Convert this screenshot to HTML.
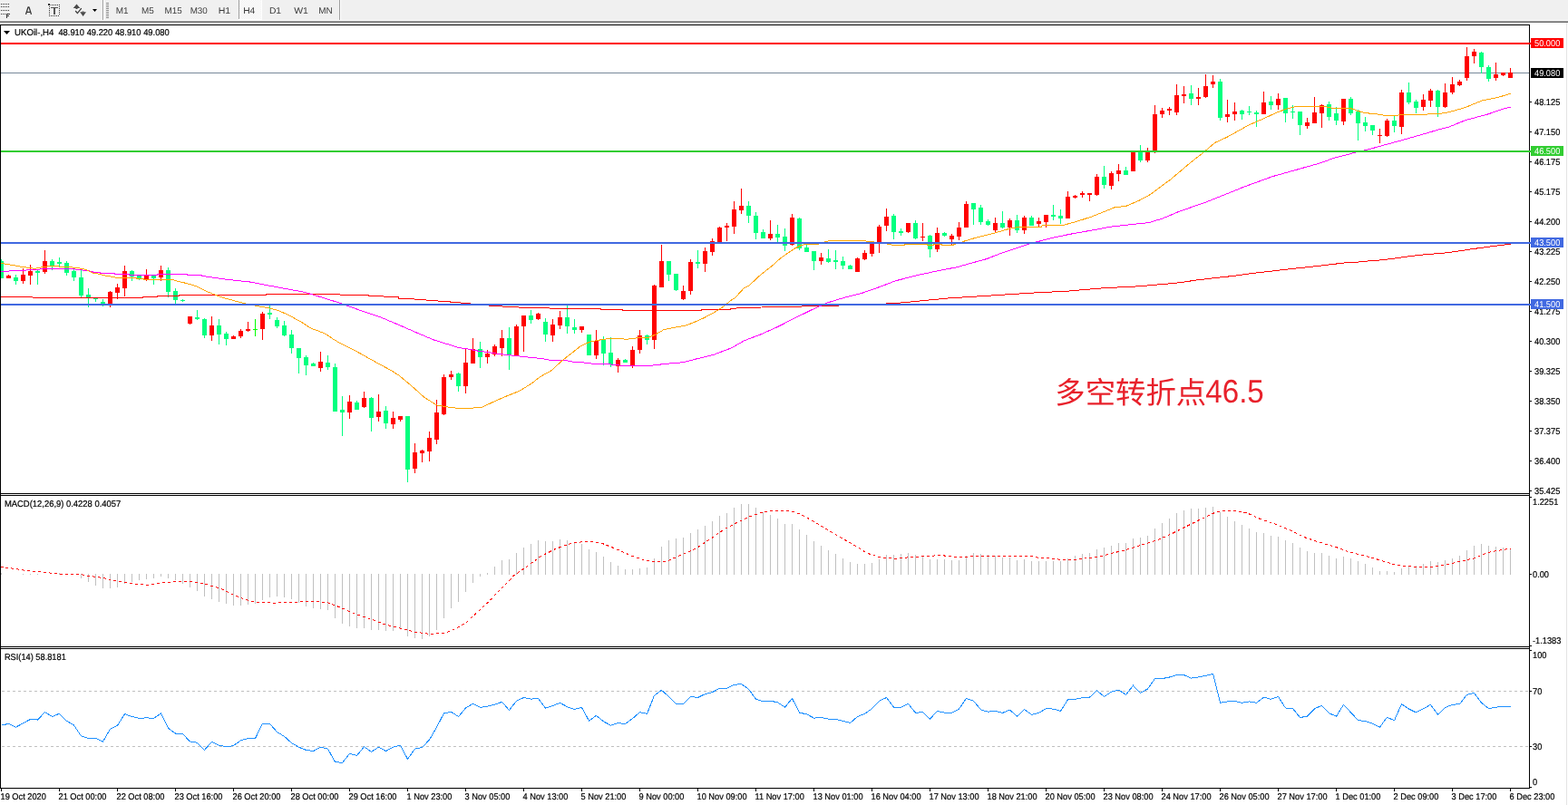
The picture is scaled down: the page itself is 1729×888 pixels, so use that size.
<!DOCTYPE html>
<html><head><meta charset="utf-8"><title>UKOil H4</title>
<style>
html,body{margin:0;padding:0;background:#fff;}
body{width:1729px;height:888px;overflow:hidden;}
svg{display:block;}
text{white-space:pre;text-rendering:geometricPrecision;}
</style></head><body>
<svg width="1729" height="888" viewBox="0 0 1729 888" shape-rendering="crispEdges"><rect x="0" y="0" width="1729" height="22" fill="#F0F0F0"/><rect x="0" y="22" width="1729" height="1" fill="#F9F9F9"/><rect x="0" y="23" width="1729" height="1" fill="#A0A0A0"/><rect x="0" y="24" width="1729" height="1" fill="#6B6B6B"/><rect x="1" y="4" width="1" height="1" fill="#333"/><rect x="3" y="4" width="1" height="1" fill="#333"/><rect x="5" y="4" width="1" height="1" fill="#333"/><rect x="7" y="4" width="1" height="1" fill="#333"/><rect x="9" y="4" width="1" height="1" fill="#333"/><rect x="1" y="7" width="1" height="1" fill="#333"/><rect x="3" y="7" width="1" height="1" fill="#333"/><rect x="5" y="7" width="1" height="1" fill="#333"/><rect x="7" y="7" width="1" height="1" fill="#333"/><rect x="9" y="7" width="1" height="1" fill="#333"/><rect x="1" y="11" width="1" height="1" fill="#333"/><rect x="3" y="11" width="1" height="1" fill="#333"/><rect x="5" y="11" width="1" height="1" fill="#333"/><rect x="7" y="11" width="1" height="1" fill="#333"/><rect x="9" y="11" width="1" height="1" fill="#333"/><rect x="1" y="15" width="1" height="1" fill="#333"/><rect x="3" y="15" width="1" height="1" fill="#333"/><rect x="5" y="15" width="1" height="1" fill="#333"/><path d="M7 15h4v1h-3v1h2v1h-2v2h-1z" fill="#333"/><path d="M28.5 15.9 L31 7.9 H32 L34.5 15.9 M29.6 13.3 H33.4" fill="none" stroke="#383838" stroke-width="1.35" stroke-linejoin="bevel" shape-rendering="geometricPrecision"/><rect x="57" y="5" width="1" height="1" fill="#333"/><rect x="59" y="5" width="1" height="1" fill="#333"/><rect x="61" y="5" width="1" height="1" fill="#333"/><rect x="63" y="5" width="1" height="1" fill="#333"/><rect x="65" y="5" width="1" height="1" fill="#333"/><rect x="54" y="7" width="1" height="1" fill="#333"/><rect x="65" y="7" width="1" height="1" fill="#333"/><rect x="54" y="9" width="1" height="1" fill="#333"/><rect x="65" y="9" width="1" height="1" fill="#333"/><rect x="54" y="11" width="1" height="1" fill="#333"/><rect x="65" y="11" width="1" height="1" fill="#333"/><rect x="54" y="13" width="1" height="1" fill="#333"/><rect x="65" y="13" width="1" height="1" fill="#333"/><rect x="54" y="15" width="1" height="1" fill="#333"/><rect x="65" y="15" width="1" height="1" fill="#333"/><rect x="54" y="17" width="1" height="1" fill="#333"/><rect x="56" y="17" width="1" height="1" fill="#333"/><rect x="58" y="17" width="1" height="1" fill="#333"/><rect x="60" y="17" width="1" height="1" fill="#333"/><rect x="62" y="17" width="1" height="1" fill="#333"/><rect x="64" y="17" width="1" height="1" fill="#333"/><rect x="53" y="4" width="2" height="2" fill="#333"/><rect x="55" y="5" width="1" height="1" fill="#777"/><rect x="56" y="8" width="8" height="1" fill="#555"/><rect x="59" y="8" width="2" height="8" fill="#555"/><g shape-rendering="geometricPrecision" fill="#4a4a4a"><path d="M84.5 4.5 L88.3 9 L80.7 9 Z"/><path d="M83.5 9h2v1h-2z"/><path d="M88.2 13.2 L95 13.2 L91.6 18 Z"/><path d="M90.5 12.5h2v1h-2z"/><path d="M83.2 12 L85.4 14.6 L89.8 9.2" fill="none" stroke="#3a3a3a" stroke-width="1.3"/></g><path d="M102 10h5l-2.5 3z" fill="#000" shape-rendering="geometricPrecision"/><rect x="113" y="0" width="1" height="22" fill="#A0A0A0"/><rect x="114" y="0" width="1" height="22" fill="#FFFFFF"/><rect x="117" y="3" width="3" height="1" fill="#8C8C8C"/><rect x="117" y="5" width="3" height="1" fill="#8C8C8C"/><rect x="117" y="7" width="3" height="1" fill="#8C8C8C"/><rect x="117" y="9" width="3" height="1" fill="#8C8C8C"/><rect x="117" y="11" width="3" height="1" fill="#8C8C8C"/><rect x="117" y="13" width="3" height="1" fill="#8C8C8C"/><rect x="117" y="15" width="3" height="1" fill="#8C8C8C"/><rect x="117" y="17" width="3" height="1" fill="#8C8C8C"/><rect x="117" y="19" width="3" height="1" fill="#8C8C8C"/><defs><pattern id="chk" x="0" y="0" width="2" height="2" patternUnits="userSpaceOnUse"><rect width="2" height="2" fill="#F0F0F0"/><rect width="1" height="1" fill="#FFFFFF"/><rect x="1" y="1" width="1" height="1" fill="#FFFFFF"/></pattern></defs><rect x="264" y="0" width="24" height="21" fill="url(#chk)"/><rect x="263" y="0" width="1" height="21" fill="#A0A0A0"/><rect x="288" y="0" width="1" height="22" fill="#FFFFFF"/><rect x="263" y="21" width="26" height="1" fill="#FFFFFF"/><rect x="374" y="0" width="1" height="22" fill="#A0A0A0"/><rect x="375" y="0" width="1" height="22" fill="#FFFFFF"/><g font-family="'Liberation Sans', sans-serif" font-size="9.8px" fill="#3C3C3C"><text x="127.80000000000001" y="14.9" textLength="13.9" lengthAdjust="spacingAndGlyphs">M1</text><text x="156.0" y="14.9" textLength="13.8" lengthAdjust="spacingAndGlyphs">M5</text><text x="181.6" y="14.9" textLength="19.1" lengthAdjust="spacingAndGlyphs">M15</text><text x="209.70000000000002" y="14.9" textLength="19.1" lengthAdjust="spacingAndGlyphs">M30</text><text x="240.70000000000002" y="14.9" textLength="13.5" lengthAdjust="spacingAndGlyphs">H1</text><text x="268.2" y="14.9" textLength="13.1" lengthAdjust="spacingAndGlyphs">H4</text><text x="296.9" y="14.9" textLength="13.2" lengthAdjust="spacingAndGlyphs">D1</text><text x="324.2" y="14.9" textLength="15.7" lengthAdjust="spacingAndGlyphs">W1</text><text x="351.29999999999995" y="14.9" textLength="15.5" lengthAdjust="spacingAndGlyphs">MN</text></g><rect x="0" y="25" width="1729" height="863" fill="#FFFFFF"/><rect x="1727" y="25" width="1" height="863" fill="#E3E3E3"/><rect x="1" y="80" width="1686" height="1" fill="#778899"/><g clip-path="url(#cm)"><rect x="1" y="286" width="1" height="21" fill="#00FF7F"/><rect x="-1" y="288" width="5" height="19" fill="#00FF7F"/><rect x="9" y="303" width="1" height="4" fill="#FF0000"/><rect x="7" y="304" width="5" height="3" fill="#FF0000"/><rect x="17" y="303" width="1" height="11" fill="#00FF7F"/><rect x="15" y="306" width="5" height="4" fill="#00FF7F"/><rect x="25" y="296" width="1" height="17" fill="#FF0000"/><rect x="23" y="303" width="5" height="7" fill="#FF0000"/><rect x="33" y="292" width="1" height="22" fill="#FF0000"/><rect x="31" y="299" width="5" height="5" fill="#FF0000"/><rect x="41" y="298" width="1" height="16" fill="#00FF7F"/><rect x="39" y="299" width="5" height="2" fill="#00FF7F"/><rect x="49" y="276" width="1" height="26" fill="#FF0000"/><rect x="47" y="288" width="5" height="12" fill="#FF0000"/><rect x="57" y="286" width="1" height="12" fill="#00FF7F"/><rect x="55" y="288" width="5" height="5" fill="#00FF7F"/><rect x="65" y="284" width="1" height="10" fill="#00FF7F"/><rect x="63" y="289" width="5" height="2" fill="#00FF7F"/><rect x="73" y="288" width="1" height="16" fill="#00FF7F"/><rect x="71" y="290" width="5" height="11" fill="#00FF7F"/><rect x="81" y="296" width="1" height="14" fill="#00FF7F"/><rect x="79" y="299" width="5" height="7" fill="#00FF7F"/><rect x="89" y="296" width="1" height="32" fill="#00FF7F"/><rect x="87" y="306" width="5" height="20" fill="#00FF7F"/><rect x="97" y="318" width="1" height="21" fill="#00FF7F"/><rect x="95" y="325" width="5" height="3" fill="#00FF7F"/><rect x="105" y="328" width="1" height="5" fill="#00FF7F"/><rect x="103" y="329" width="5" height="1" fill="#00FF7F"/><rect x="113" y="330" width="1" height="8" fill="#00FF7F"/><rect x="111" y="333" width="5" height="2" fill="#00FF7F"/><rect x="121" y="321" width="1" height="18" fill="#FF0000"/><rect x="119" y="322" width="5" height="13" fill="#FF0000"/><rect x="129" y="313" width="1" height="17" fill="#FF0000"/><rect x="127" y="317" width="5" height="6" fill="#FF0000"/><rect x="137" y="293" width="1" height="34" fill="#FF0000"/><rect x="135" y="299" width="5" height="19" fill="#FF0000"/><rect x="145" y="298" width="1" height="12" fill="#00FF7F"/><rect x="143" y="299" width="5" height="6" fill="#00FF7F"/><rect x="153" y="304" width="1" height="5" fill="#00FF7F"/><rect x="151" y="304" width="5" height="3" fill="#00FF7F"/><rect x="161" y="297" width="1" height="13" fill="#FF0000"/><rect x="159" y="304" width="5" height="4" fill="#FF0000"/><rect x="169" y="304" width="1" height="10" fill="#00FF7F"/><rect x="167" y="304" width="5" height="3" fill="#00FF7F"/><rect x="177" y="293" width="1" height="17" fill="#FF0000"/><rect x="175" y="298" width="5" height="8" fill="#FF0000"/><rect x="185" y="295" width="1" height="33" fill="#00FF7F"/><rect x="183" y="298" width="5" height="24" fill="#00FF7F"/><rect x="193" y="318" width="1" height="17" fill="#00FF7F"/><rect x="191" y="321" width="5" height="10" fill="#00FF7F"/><rect x="201" y="330" width="1" height="3" fill="#00FF7F"/><rect x="199" y="331" width="5" height="1" fill="#00FF7F"/><rect x="209" y="349" width="1" height="9" fill="#FF0000"/><rect x="207" y="349" width="5" height="8" fill="#FF0000"/><rect x="217" y="342" width="1" height="11" fill="#00FF7F"/><rect x="215" y="350" width="5" height="2" fill="#00FF7F"/><rect x="225" y="351" width="1" height="22" fill="#00FF7F"/><rect x="223" y="352" width="5" height="18" fill="#00FF7F"/><rect x="233" y="349" width="1" height="27" fill="#FF0000"/><rect x="231" y="359" width="5" height="11" fill="#FF0000"/><rect x="241" y="352" width="1" height="28" fill="#00FF7F"/><rect x="239" y="359" width="5" height="10" fill="#00FF7F"/><rect x="249" y="366" width="1" height="15" fill="#00FF7F"/><rect x="247" y="368" width="5" height="6" fill="#00FF7F"/><rect x="257" y="370" width="1" height="4" fill="#FF0000"/><rect x="255" y="371" width="5" height="3" fill="#FF0000"/><rect x="265" y="363" width="1" height="10" fill="#FF0000"/><rect x="263" y="365" width="5" height="6" fill="#FF0000"/><rect x="273" y="355" width="1" height="11" fill="#FF0000"/><rect x="271" y="363" width="5" height="2" fill="#FF0000"/><rect x="281" y="352" width="1" height="19" fill="#00FF00"/><rect x="279" y="363" width="5" height="1" fill="#00FF00"/><rect x="289" y="344" width="1" height="31" fill="#FF0000"/><rect x="287" y="346" width="5" height="17" fill="#FF0000"/><rect x="297" y="337" width="1" height="15" fill="#00FF7F"/><rect x="295" y="345" width="5" height="2" fill="#00FF7F"/><rect x="305" y="350" width="1" height="12" fill="#00FF7F"/><rect x="303" y="353" width="5" height="7" fill="#00FF7F"/><rect x="313" y="354" width="1" height="17" fill="#00FF7F"/><rect x="311" y="359" width="5" height="11" fill="#00FF7F"/><rect x="321" y="364" width="1" height="26" fill="#00FF7F"/><rect x="319" y="369" width="5" height="15" fill="#00FF7F"/><rect x="329" y="384" width="1" height="28" fill="#00FF7F"/><rect x="327" y="384" width="5" height="11" fill="#00FF7F"/><rect x="337" y="392" width="1" height="22" fill="#00FF7F"/><rect x="335" y="394" width="5" height="9" fill="#00FF7F"/><rect x="345" y="400" width="1" height="4" fill="#00FF7F"/><rect x="343" y="401" width="5" height="3" fill="#00FF7F"/><rect x="353" y="388" width="1" height="22" fill="#FF0000"/><rect x="351" y="399" width="5" height="7" fill="#FF0000"/><rect x="361" y="392" width="1" height="16" fill="#00FF7F"/><rect x="359" y="400" width="5" height="5" fill="#00FF7F"/><rect x="369" y="401" width="1" height="53" fill="#00FF7F"/><rect x="367" y="405" width="5" height="49" fill="#00FF7F"/><rect x="377" y="437" width="1" height="44" fill="#00FF7F"/><rect x="375" y="452" width="5" height="3" fill="#00FF7F"/><rect x="385" y="436" width="1" height="26" fill="#FF0000"/><rect x="383" y="443" width="5" height="12" fill="#FF0000"/><rect x="393" y="442" width="1" height="10" fill="#00FF7F"/><rect x="391" y="444" width="5" height="8" fill="#00FF7F"/><rect x="401" y="432" width="1" height="18" fill="#FF0000"/><rect x="399" y="439" width="5" height="10" fill="#FF0000"/><rect x="409" y="438" width="1" height="38" fill="#00FF7F"/><rect x="407" y="439" width="5" height="22" fill="#00FF7F"/><rect x="417" y="435" width="1" height="30" fill="#FF0000"/><rect x="415" y="454" width="5" height="6" fill="#FF0000"/><rect x="425" y="448" width="1" height="25" fill="#00FF7F"/><rect x="423" y="453" width="5" height="14" fill="#00FF7F"/><rect x="433" y="454" width="1" height="19" fill="#FF0000"/><rect x="431" y="461" width="5" height="7" fill="#FF0000"/><rect x="441" y="459" width="1" height="6" fill="#FF0000"/><rect x="439" y="459" width="5" height="4" fill="#FF0000"/><rect x="449" y="459" width="1" height="73" fill="#00FF7F"/><rect x="447" y="459" width="5" height="59" fill="#00FF7F"/><rect x="457" y="489" width="1" height="33" fill="#FF0000"/><rect x="455" y="499" width="5" height="18" fill="#FF0000"/><rect x="465" y="496" width="1" height="14" fill="#FF0000"/><rect x="463" y="497" width="5" height="3" fill="#FF0000"/><rect x="473" y="476" width="1" height="33" fill="#FF0000"/><rect x="471" y="483" width="5" height="15" fill="#FF0000"/><rect x="481" y="441" width="1" height="49" fill="#FF0000"/><rect x="479" y="455" width="5" height="30" fill="#FF0000"/><rect x="489" y="413" width="1" height="45" fill="#FF0000"/><rect x="487" y="416" width="5" height="41" fill="#FF0000"/><rect x="497" y="409" width="1" height="10" fill="#FF0000"/><rect x="495" y="413" width="5" height="3" fill="#FF0000"/><rect x="505" y="411" width="1" height="21" fill="#00FF7F"/><rect x="503" y="412" width="5" height="14" fill="#00FF7F"/><rect x="513" y="384" width="1" height="50" fill="#FF0000"/><rect x="511" y="400" width="5" height="26" fill="#FF0000"/><rect x="521" y="373" width="1" height="28" fill="#FF0000"/><rect x="519" y="385" width="5" height="16" fill="#FF0000"/><rect x="529" y="377" width="1" height="29" fill="#00FF7F"/><rect x="527" y="385" width="5" height="9" fill="#00FF7F"/><rect x="537" y="386" width="1" height="15" fill="#FF0000"/><rect x="535" y="390" width="5" height="4" fill="#FF0000"/><rect x="545" y="380" width="1" height="13" fill="#FF0000"/><rect x="543" y="382" width="5" height="9" fill="#FF0000"/><rect x="553" y="364" width="1" height="29" fill="#FF0000"/><rect x="551" y="373" width="5" height="11" fill="#FF0000"/><rect x="561" y="361" width="1" height="47" fill="#00FF7F"/><rect x="559" y="373" width="5" height="18" fill="#00FF7F"/><rect x="569" y="358" width="1" height="34" fill="#FF0000"/><rect x="567" y="360" width="5" height="32" fill="#FF0000"/><rect x="577" y="348" width="1" height="40" fill="#FF0000"/><rect x="575" y="348" width="5" height="12" fill="#FF0000"/><rect x="585" y="342" width="1" height="15" fill="#00FF7F"/><rect x="583" y="348" width="5" height="5" fill="#00FF7F"/><rect x="593" y="345" width="1" height="8" fill="#FF0000"/><rect x="591" y="346" width="5" height="6" fill="#FF0000"/><rect x="601" y="351" width="1" height="26" fill="#00FF7F"/><rect x="599" y="355" width="5" height="14" fill="#00FF7F"/><rect x="609" y="352" width="1" height="25" fill="#FF0000"/><rect x="607" y="358" width="5" height="12" fill="#FF0000"/><rect x="617" y="343" width="1" height="20" fill="#FF0000"/><rect x="615" y="350" width="5" height="9" fill="#FF0000"/><rect x="625" y="337" width="1" height="31" fill="#00FF7F"/><rect x="623" y="350" width="5" height="10" fill="#00FF7F"/><rect x="633" y="352" width="1" height="16" fill="#00FF7F"/><rect x="631" y="361" width="5" height="3" fill="#00FF7F"/><rect x="641" y="360" width="1" height="7" fill="#FF0000"/><rect x="639" y="360" width="5" height="4" fill="#FF0000"/><rect x="649" y="369" width="1" height="23" fill="#00FF7F"/><rect x="647" y="369" width="5" height="23" fill="#00FF7F"/><rect x="657" y="364" width="1" height="32" fill="#FF0000"/><rect x="655" y="376" width="5" height="16" fill="#FF0000"/><rect x="665" y="371" width="1" height="32" fill="#00FF7F"/><rect x="663" y="375" width="5" height="15" fill="#00FF7F"/><rect x="673" y="372" width="1" height="33" fill="#00FF7F"/><rect x="671" y="389" width="5" height="13" fill="#00FF7F"/><rect x="681" y="395" width="1" height="16" fill="#FF0000"/><rect x="679" y="397" width="5" height="7" fill="#FF0000"/><rect x="689" y="396" width="1" height="4" fill="#00FF7F"/><rect x="687" y="397" width="5" height="3" fill="#00FF7F"/><rect x="697" y="382" width="1" height="24" fill="#FF0000"/><rect x="695" y="386" width="5" height="17" fill="#FF0000"/><rect x="705" y="364" width="1" height="26" fill="#FF0000"/><rect x="703" y="370" width="5" height="16" fill="#FF0000"/><rect x="713" y="369" width="1" height="11" fill="#00FF7F"/><rect x="711" y="370" width="5" height="5" fill="#00FF7F"/><rect x="721" y="314" width="1" height="71" fill="#FF0000"/><rect x="719" y="315" width="5" height="60" fill="#FF0000"/><rect x="729" y="270" width="1" height="47" fill="#FF0000"/><rect x="727" y="288" width="5" height="29" fill="#FF0000"/><rect x="737" y="288" width="1" height="22" fill="#00FF7F"/><rect x="735" y="288" width="5" height="15" fill="#00FF7F"/><rect x="745" y="302" width="1" height="19" fill="#00FF7F"/><rect x="743" y="302" width="5" height="18" fill="#00FF7F"/><rect x="753" y="315" width="1" height="16" fill="#FF0000"/><rect x="751" y="321" width="5" height="9" fill="#FF0000"/><rect x="761" y="286" width="1" height="39" fill="#FF0000"/><rect x="759" y="289" width="5" height="32" fill="#FF0000"/><rect x="769" y="276" width="1" height="20" fill="#00FF7F"/><rect x="767" y="289" width="5" height="2" fill="#00FF7F"/><rect x="777" y="273" width="1" height="27" fill="#FF0000"/><rect x="775" y="277" width="5" height="14" fill="#FF0000"/><rect x="785" y="263" width="1" height="19" fill="#FF0000"/><rect x="783" y="266" width="5" height="12" fill="#FF0000"/><rect x="793" y="250" width="1" height="18" fill="#FF0000"/><rect x="791" y="251" width="5" height="17" fill="#FF0000"/><rect x="801" y="246" width="1" height="20" fill="#FF0000"/><rect x="799" y="249" width="5" height="2" fill="#FF0000"/><rect x="809" y="222" width="1" height="36" fill="#FF0000"/><rect x="807" y="231" width="5" height="19" fill="#FF0000"/><rect x="817" y="208" width="1" height="28" fill="#FF0000"/><rect x="815" y="227" width="5" height="5" fill="#FF0000"/><rect x="825" y="222" width="1" height="24" fill="#00FF7F"/><rect x="823" y="227" width="5" height="11" fill="#00FF7F"/><rect x="833" y="234" width="1" height="30" fill="#00FF7F"/><rect x="831" y="238" width="5" height="19" fill="#00FF7F"/><rect x="841" y="253" width="1" height="10" fill="#00FF7F"/><rect x="839" y="256" width="5" height="7" fill="#00FF7F"/><rect x="849" y="243" width="1" height="22" fill="#FF0000"/><rect x="847" y="258" width="5" height="5" fill="#FF0000"/><rect x="857" y="248" width="1" height="19" fill="#00FF7F"/><rect x="855" y="258" width="5" height="4" fill="#00FF7F"/><rect x="865" y="252" width="1" height="25" fill="#00FF7F"/><rect x="863" y="261" width="5" height="10" fill="#00FF7F"/><rect x="873" y="236" width="1" height="35" fill="#FF0000"/><rect x="871" y="240" width="5" height="30" fill="#FF0000"/><rect x="881" y="240" width="1" height="36" fill="#00FF7F"/><rect x="879" y="241" width="5" height="33" fill="#00FF7F"/><rect x="889" y="270" width="1" height="8" fill="#00FF7F"/><rect x="887" y="273" width="5" height="5" fill="#00FF7F"/><rect x="897" y="277" width="1" height="21" fill="#00FF7F"/><rect x="895" y="277" width="5" height="11" fill="#00FF7F"/><rect x="905" y="279" width="1" height="13" fill="#FF0000"/><rect x="903" y="284" width="5" height="4" fill="#FF0000"/><rect x="913" y="275" width="1" height="15" fill="#00FF7F"/><rect x="911" y="285" width="5" height="4" fill="#00FF7F"/><rect x="921" y="276" width="1" height="21" fill="#00FF7F"/><rect x="919" y="287" width="5" height="2" fill="#00FF7F"/><rect x="929" y="283" width="1" height="14" fill="#00FF7F"/><rect x="927" y="288" width="5" height="5" fill="#00FF7F"/><rect x="937" y="292" width="1" height="5" fill="#00FF7F"/><rect x="935" y="293" width="5" height="4" fill="#00FF7F"/><rect x="945" y="284" width="1" height="16" fill="#FF0000"/><rect x="943" y="285" width="5" height="15" fill="#FF0000"/><rect x="953" y="276" width="1" height="11" fill="#FF0000"/><rect x="951" y="279" width="5" height="7" fill="#FF0000"/><rect x="961" y="266" width="1" height="17" fill="#FF0000"/><rect x="959" y="268" width="5" height="12" fill="#FF0000"/><rect x="969" y="248" width="1" height="31" fill="#FF0000"/><rect x="967" y="250" width="5" height="17" fill="#FF0000"/><rect x="977" y="230" width="1" height="25" fill="#FF0000"/><rect x="975" y="239" width="5" height="10" fill="#FF0000"/><rect x="985" y="236" width="1" height="28" fill="#00FF7F"/><rect x="983" y="238" width="5" height="18" fill="#00FF7F"/><rect x="993" y="252" width="1" height="8" fill="#00FF7F"/><rect x="991" y="255" width="5" height="2" fill="#00FF7F"/><rect x="1001" y="246" width="1" height="11" fill="#FF0000"/><rect x="999" y="246" width="5" height="10" fill="#FF0000"/><rect x="1009" y="243" width="1" height="21" fill="#00FF7F"/><rect x="1007" y="246" width="5" height="17" fill="#00FF7F"/><rect x="1017" y="246" width="1" height="20" fill="#FF0000"/><rect x="1015" y="261" width="5" height="1" fill="#FF0000"/><rect x="1025" y="259" width="1" height="25" fill="#00FF7F"/><rect x="1023" y="260" width="5" height="15" fill="#00FF7F"/><rect x="1033" y="251" width="1" height="27" fill="#FF0000"/><rect x="1031" y="257" width="5" height="18" fill="#FF0000"/><rect x="1041" y="256" width="1" height="5" fill="#00FF7F"/><rect x="1039" y="257" width="5" height="3" fill="#00FF7F"/><rect x="1049" y="258" width="1" height="12" fill="#FF0000"/><rect x="1047" y="260" width="5" height="4" fill="#FF0000"/><rect x="1057" y="245" width="1" height="20" fill="#FF0000"/><rect x="1055" y="251" width="5" height="10" fill="#FF0000"/><rect x="1065" y="222" width="1" height="29" fill="#FF0000"/><rect x="1063" y="225" width="5" height="26" fill="#FF0000"/><rect x="1073" y="224" width="1" height="24" fill="#00FF7F"/><rect x="1071" y="224" width="5" height="7" fill="#00FF7F"/><rect x="1081" y="226" width="1" height="22" fill="#00FF7F"/><rect x="1079" y="229" width="5" height="16" fill="#00FF7F"/><rect x="1089" y="242" width="1" height="7" fill="#00FF7F"/><rect x="1087" y="244" width="5" height="4" fill="#00FF7F"/><rect x="1097" y="240" width="1" height="17" fill="#FF0000"/><rect x="1095" y="246" width="5" height="8" fill="#FF0000"/><rect x="1105" y="233" width="1" height="19" fill="#00FF7F"/><rect x="1103" y="246" width="5" height="5" fill="#00FF7F"/><rect x="1113" y="241" width="1" height="19" fill="#FF0000"/><rect x="1111" y="243" width="5" height="8" fill="#FF0000"/><rect x="1121" y="237" width="1" height="20" fill="#00FF7F"/><rect x="1119" y="243" width="5" height="11" fill="#00FF7F"/><rect x="1129" y="238" width="1" height="20" fill="#FF0000"/><rect x="1127" y="240" width="5" height="14" fill="#FF0000"/><rect x="1137" y="238" width="1" height="11" fill="#00FF7F"/><rect x="1135" y="240" width="5" height="9" fill="#00FF7F"/><rect x="1145" y="240" width="1" height="10" fill="#FF0000"/><rect x="1143" y="244" width="5" height="3" fill="#FF0000"/><rect x="1153" y="237" width="1" height="14" fill="#FF0000"/><rect x="1151" y="237" width="5" height="8" fill="#FF0000"/><rect x="1161" y="226" width="1" height="17" fill="#00FF7F"/><rect x="1159" y="237" width="5" height="2" fill="#00FF7F"/><rect x="1169" y="231" width="1" height="16" fill="#00FF7F"/><rect x="1167" y="238" width="5" height="3" fill="#00FF7F"/><rect x="1177" y="211" width="1" height="30" fill="#FF0000"/><rect x="1175" y="217" width="5" height="24" fill="#FF0000"/><rect x="1185" y="215" width="1" height="4" fill="#FF0000"/><rect x="1183" y="216" width="5" height="2" fill="#FF0000"/><rect x="1193" y="211" width="1" height="7" fill="#FF0000"/><rect x="1191" y="213" width="5" height="2" fill="#FF0000"/><rect x="1201" y="213" width="1" height="9" fill="#FF0000"/><rect x="1199" y="213" width="5" height="2" fill="#FF0000"/><rect x="1209" y="192" width="1" height="24" fill="#FF0000"/><rect x="1207" y="195" width="5" height="20" fill="#FF0000"/><rect x="1217" y="183" width="1" height="25" fill="#00FF7F"/><rect x="1215" y="195" width="5" height="9" fill="#00FF7F"/><rect x="1225" y="189" width="1" height="20" fill="#FF0000"/><rect x="1223" y="191" width="5" height="14" fill="#FF0000"/><rect x="1233" y="181" width="1" height="19" fill="#FF0000"/><rect x="1231" y="188" width="5" height="4" fill="#FF0000"/><rect x="1241" y="184" width="1" height="9" fill="#00FF7F"/><rect x="1239" y="188" width="5" height="5" fill="#00FF7F"/><rect x="1249" y="168" width="1" height="21" fill="#FF0000"/><rect x="1247" y="168" width="5" height="21" fill="#FF0000"/><rect x="1257" y="160" width="1" height="19" fill="#00FF7F"/><rect x="1255" y="168" width="5" height="9" fill="#00FF7F"/><rect x="1265" y="163" width="1" height="16" fill="#FF0000"/><rect x="1263" y="168" width="5" height="9" fill="#FF0000"/><rect x="1273" y="116" width="1" height="53" fill="#FF0000"/><rect x="1271" y="126" width="5" height="40" fill="#FF0000"/><rect x="1281" y="119" width="1" height="11" fill="#FF0000"/><rect x="1279" y="122" width="5" height="4" fill="#FF0000"/><rect x="1289" y="118" width="1" height="9" fill="#FF0000"/><rect x="1287" y="120" width="5" height="2" fill="#FF0000"/><rect x="1297" y="93" width="1" height="34" fill="#FF0000"/><rect x="1295" y="105" width="5" height="19" fill="#FF0000"/><rect x="1305" y="95" width="1" height="19" fill="#FF0000"/><rect x="1303" y="104" width="5" height="2" fill="#FF0000"/><rect x="1313" y="94" width="1" height="22" fill="#00FF7F"/><rect x="1311" y="103" width="5" height="6" fill="#00FF7F"/><rect x="1321" y="97" width="1" height="19" fill="#FF0000"/><rect x="1319" y="107" width="5" height="2" fill="#FF0000"/><rect x="1329" y="82" width="1" height="26" fill="#FF0000"/><rect x="1327" y="95" width="5" height="12" fill="#FF0000"/><rect x="1337" y="83" width="1" height="14" fill="#FF0000"/><rect x="1335" y="90" width="5" height="3" fill="#FF0000"/><rect x="1345" y="87" width="1" height="46" fill="#00FF7F"/><rect x="1343" y="90" width="5" height="40" fill="#00FF7F"/><rect x="1353" y="110" width="1" height="25" fill="#FF0000"/><rect x="1351" y="126" width="5" height="3" fill="#FF0000"/><rect x="1361" y="113" width="1" height="20" fill="#FF0000"/><rect x="1359" y="123" width="5" height="3" fill="#FF0000"/><rect x="1369" y="121" width="1" height="11" fill="#00FF7F"/><rect x="1367" y="122" width="5" height="4" fill="#00FF7F"/><rect x="1377" y="117" width="1" height="10" fill="#00FF7F"/><rect x="1375" y="123" width="5" height="1" fill="#00FF7F"/><rect x="1385" y="122" width="1" height="18" fill="#00FF7F"/><rect x="1383" y="124" width="5" height="2" fill="#00FF7F"/><rect x="1393" y="101" width="1" height="25" fill="#FF0000"/><rect x="1391" y="113" width="5" height="13" fill="#FF0000"/><rect x="1401" y="106" width="1" height="15" fill="#00FF7F"/><rect x="1399" y="112" width="5" height="4" fill="#00FF7F"/><rect x="1409" y="103" width="1" height="18" fill="#FF0000"/><rect x="1407" y="109" width="5" height="7" fill="#FF0000"/><rect x="1417" y="108" width="1" height="27" fill="#00FF7F"/><rect x="1415" y="108" width="5" height="17" fill="#00FF7F"/><rect x="1425" y="116" width="1" height="15" fill="#00FF7F"/><rect x="1423" y="123" width="5" height="1" fill="#00FF7F"/><rect x="1433" y="123" width="1" height="26" fill="#00FF7F"/><rect x="1431" y="123" width="5" height="15" fill="#00FF7F"/><rect x="1441" y="130" width="1" height="12" fill="#FF0000"/><rect x="1439" y="135" width="5" height="4" fill="#FF0000"/><rect x="1449" y="107" width="1" height="29" fill="#FF0000"/><rect x="1447" y="124" width="5" height="12" fill="#FF0000"/><rect x="1457" y="115" width="1" height="26" fill="#FF0000"/><rect x="1455" y="116" width="5" height="9" fill="#FF0000"/><rect x="1465" y="112" width="1" height="21" fill="#00FF7F"/><rect x="1463" y="115" width="5" height="14" fill="#00FF7F"/><rect x="1473" y="118" width="1" height="20" fill="#00FF7F"/><rect x="1471" y="125" width="5" height="8" fill="#00FF7F"/><rect x="1481" y="109" width="1" height="29" fill="#FF0000"/><rect x="1479" y="109" width="5" height="25" fill="#FF0000"/><rect x="1489" y="107" width="1" height="20" fill="#00FF7F"/><rect x="1487" y="109" width="5" height="16" fill="#00FF7F"/><rect x="1497" y="121" width="1" height="34" fill="#00FF7F"/><rect x="1495" y="123" width="5" height="13" fill="#00FF7F"/><rect x="1505" y="129" width="1" height="16" fill="#00FF7F"/><rect x="1503" y="135" width="5" height="4" fill="#00FF7F"/><rect x="1513" y="138" width="1" height="11" fill="#00FF7F"/><rect x="1511" y="138" width="5" height="6" fill="#00FF7F"/><rect x="1521" y="142" width="1" height="16" fill="#FF0000"/><rect x="1519" y="149" width="5" height="1" fill="#FF0000"/><rect x="1529" y="131" width="1" height="20" fill="#FF0000"/><rect x="1527" y="133" width="5" height="17" fill="#FF0000"/><rect x="1537" y="128" width="1" height="18" fill="#00FF7F"/><rect x="1535" y="133" width="5" height="6" fill="#00FF7F"/><rect x="1545" y="99" width="1" height="49" fill="#FF0000"/><rect x="1543" y="102" width="5" height="38" fill="#FF0000"/><rect x="1553" y="91" width="1" height="24" fill="#00FF7F"/><rect x="1551" y="102" width="5" height="11" fill="#00FF7F"/><rect x="1561" y="110" width="1" height="15" fill="#00FF7F"/><rect x="1559" y="112" width="5" height="7" fill="#00FF7F"/><rect x="1569" y="104" width="1" height="18" fill="#FF0000"/><rect x="1567" y="110" width="5" height="8" fill="#FF0000"/><rect x="1577" y="98" width="1" height="20" fill="#FF0000"/><rect x="1575" y="100" width="5" height="11" fill="#FF0000"/><rect x="1585" y="99" width="1" height="30" fill="#00FF7F"/><rect x="1583" y="100" width="5" height="18" fill="#00FF7F"/><rect x="1593" y="92" width="1" height="27" fill="#FF0000"/><rect x="1591" y="102" width="5" height="16" fill="#FF0000"/><rect x="1601" y="85" width="1" height="19" fill="#FF0000"/><rect x="1599" y="93" width="5" height="9" fill="#FF0000"/><rect x="1609" y="88" width="1" height="7" fill="#FF0000"/><rect x="1607" y="90" width="5" height="4" fill="#FF0000"/><rect x="1617" y="52" width="1" height="37" fill="#FF0000"/><rect x="1615" y="62" width="5" height="24" fill="#FF0000"/><rect x="1625" y="54" width="1" height="16" fill="#FF0000"/><rect x="1623" y="57" width="5" height="5" fill="#FF0000"/><rect x="1633" y="57" width="1" height="24" fill="#00FF7F"/><rect x="1631" y="58" width="5" height="16" fill="#00FF7F"/><rect x="1641" y="72" width="1" height="18" fill="#00FF7F"/><rect x="1639" y="74" width="5" height="13" fill="#00FF7F"/><rect x="1649" y="69" width="1" height="20" fill="#FF0000"/><rect x="1647" y="82" width="5" height="4" fill="#FF0000"/><rect x="1657" y="80" width="1" height="4" fill="#FF0000"/><rect x="1655" y="80" width="5" height="3" fill="#FF0000"/><rect x="1665" y="75" width="1" height="11" fill="#FF0000"/><rect x="1663" y="80" width="5" height="6" fill="#FF0000"/><path d="M0.5 327.4 L30.5 327.6 L40.5 328.3 L100.5 328.5 L157.3 328.5 L157.7 327.5 L173.5 327.5 L173.9 326.4 L197.5 326.4 L197.9 325.3 L293.5 325.3 L293.9 324.3 L374.7 324.3 L375.1 325.6 L406.3 325.6 L406.7 326.4 L422.9 326.4 L423.3 327.6 L439.3 327.6 L439.7 329.1 L450.5 329.5 L460.5 330.3 L500.5 333.3 L520.5 335.2 L542.5 337.3 L559 338.3 L582.8 339.6 L622.9 340.3 L640.5 340.4 L662.4 340.4 L662.8 341.5 L686.3 341.5 L686.7 342.5 L773.5 342.5 L773.9 341.3 L805.3 341.3 L805.7 340.4 L821.9 339.4 L862.5 338.5 L901.5 337.6 L925.5 337 L960.5 335.8 L989.5 334.4 L1000.5 333.3 L1045.5 329 L1092.9 326 L1138.2 323.1 L1177.5 321.1 L1216.5 317.8 L1256.2 315.8 L1295.5 312.3 L1300.5 311.8 L1317.9 309.2 L1335.2 307.1 L1358.3 304.6 L1381.5 301.4 L1404.6 298.8 L1427.7 296.1 L1445.1 294.4 L1462.5 292.3 L1485.5 289.6 L1500.5 288.9 L1509.3 287.8 L1525.2 286.7 L1541.7 284.5 L1557.5 282.3 L1573.5 280.5 L1589.5 279.4 L1605.5 277.4 L1621.4 275 L1637.9 272.7 L1653.2 270.8 L1665.5 269.1" fill="none" stroke="#FF0000" stroke-width="1" shape-rendering="crispEdges" /><path d="M0.5 299.4 L21.5 298.5 L37.5 297.4 L53.5 296.4 L78.5 296.4 L86.5 297.4 L94.5 298.5 L102 299.4 L102.5 300.4 L110.3 300.4 L110.7 301.2 L126.5 301.2 L126.9 302.4 L142.2 302.4 L142.6 303.2 L173.5 303.2 L173.9 302.4 L206.5 302.4 L206.9 303.4 L222.3 303.4 L222.7 304.4 L245.5 307.7 L275.5 311 L305.8 316.8 L335.8 322.3 L350.9 326.8 L373.5 333.9 L396 341.9 L419.9 350 L440.5 358.7 L460.5 367.4 L478.5 375 L496.2 380.5 L505 383.4 L518.5 385.4 L527.5 387.2 L536.5 388.3 L551 390.6 L567.2 392.4 L583.4 394.2 L596.9 395.5 L606.8 397.3 L622.1 397.3 L631.1 399.1 L646.5 400.2 L654.8 401.4 L671 401.7 L686.3 403.4 L717.1 403.4 L725.5 402.4 L733.2 401.4 L748.8 400.2 L755.1 399.3 L765.5 396.5 L786.3 391.5 L807.2 383.6 L820.5 375.8 L838.5 369 L857.1 360.7 L875.5 351.4 L894.1 342.2 L912.5 333.9 L931.1 328.3 L949.5 323.7 L968.1 317.2 L986.5 310.2 L990.5 309 L1014.8 302.9 L1039.1 297.7 L1055.3 294.8 L1063.4 292.4 L1071.5 290.1 L1087.7 285.7 L1103.9 279.4 L1120.1 273.9 L1136.1 268.6 L1146.5 266 L1162.2 261.9 L1183 257.7 L1203.8 254.1 L1224.7 250.2 L1245.5 247.8 L1266.3 245.7 L1282 241 L1300.5 233.2 L1330.5 222.7 L1372.1 206 L1403.4 194.6 L1456.5 179.7 L1471.5 174.1 L1481.8 171.6 L1495 168 L1509.5 164.7 L1525.9 160.1 L1546.2 154.6 L1566.5 148.8 L1586.7 142.9 L1596.8 140.4 L1615.5 132.8 L1640.5 126 L1659.5 119.6 L1665.5 118.2" fill="none" stroke="#FF00FF" stroke-width="1" shape-rendering="crispEdges" /><path d="M0.5 290.3 L14 292.4 L25 294.5 L38.5 296.4 L47.5 294.5 L57.5 293.4 L70.5 294.5 L85 295.3 L95.1 297.4 L100.5 300.4 L102.8 301.2 L108.8 302.1 L112.5 303.3 L118.5 304.4 L124.5 305.5 L128.7 306.4 L150.1 306.4 L150.9 307.4 L158.4 307.4 L159 308.5 L190 308.5 L196 310.4 L200.5 311.3 L204.3 312.2 L208 313.2 L211.8 314.3 L215.5 315.5 L219.3 317.2 L223.8 319.2 L227.5 321.3 L230.5 322.5 L245.5 328.3 L268.2 334.4 L283.2 337.4 L294.4 339.5 L303.5 341.6 L309.5 343.6 L315.2 346.2 L321 349.1 L326.8 352.3 L332.5 355.2 L338.3 359.2 L344.1 362.7 L349.9 364.7 L355.7 367 L361.5 369.9 L367.3 374 L373 377.4 L396 389.2 L414.5 399.6 L430.9 408.4 L440.3 414.3 L453 425 L467.5 438 L481.5 447 L496.2 449.4 L505.3 450.3 L517.2 450.3 L531.1 449.4 L545.5 442.6 L559.1 436.8 L572.5 431.4 L586.1 423.1 L595.1 416 L608.5 408.4 L619.5 398 L631.1 389 L640.5 381.5 L650.5 377.1 L660.9 375.1 L671 373.6 L686.2 373.6 L689.3 374.4 L701.5 373 L715.5 372.2 L723.8 368.5 L732.2 363.5 L744.7 361 L755.1 359.4 L765.5 355.5 L775.9 350.8 L786.3 345.4 L796.7 338.9 L807.2 330.5 L810.1 329 L820.1 318.1 L825.9 315.1 L838.5 303.3 L850.5 294 L860.9 284.7 L871 277.6 L876.1 274.2 L883.2 270.7 L888.3 269.5 L901.5 269.5 L911.5 266.4 L917.5 265.1 L942 265.1 L957.5 266.2 L972.5 268 L985.1 270.4 L997.4 270.4 L997.8 269.3 L1022.1 269.3 L1022.5 270.5 L1029.4 270.5 L1029.8 269.3 L1038.3 269.3 L1038.7 270.5 L1051.2 270.5 L1051.6 269.3 L1057.5 268.5 L1061.5 266.6 L1075.5 262.4 L1096 257.3 L1111.2 252.8 L1120.5 250.9 L1148.5 250.9 L1149 248.9 L1170.5 248.9 L1186.1 244.7 L1203.8 239 L1224.7 230.6 L1229.5 228.6 L1241.3 227.5 L1255.9 221.3 L1267.4 215.2 L1278.5 207 L1290.5 198.2 L1312.5 179.6 L1327.5 167.8 L1339.8 157.3 L1352.2 151.7 L1364.5 144.9 L1377 137.9 L1390.5 132.1 L1400.5 127.5 L1410.9 122.9 L1421 119.4 L1430.2 117.4 L1461.5 117.4 L1464.5 118.6 L1470.7 119.4 L1485.9 119.4 L1492 120.2 L1496 122 L1505.5 124.7 L1515.8 125.5 L1525.9 127.2 L1541.1 127.2 L1543.1 126.5 L1572.5 126.5 L1576.5 125.2 L1588.7 125.2 L1596.8 123.8 L1607 121.1 L1615.5 118.6 L1634.3 111 L1651.2 107.6 L1665.5 103.3" fill="none" stroke="#FFA500" stroke-width="1" shape-rendering="crispEdges" /></g><rect x="1" y="632" width="1" height="2" fill="#C0C0C0"/><rect x="25" y="633" width="1" height="1" fill="#C0C0C0"/><rect x="33" y="633" width="1" height="1" fill="#C0C0C0"/><rect x="41" y="633" width="1" height="1" fill="#C0C0C0"/><rect x="65" y="632" width="1" height="2" fill="#C0C0C0"/><rect x="89" y="633" width="1" height="5" fill="#C0C0C0"/><rect x="97" y="633" width="1" height="9" fill="#C0C0C0"/><rect x="105" y="633" width="1" height="13" fill="#C0C0C0"/><rect x="113" y="633" width="1" height="16" fill="#C0C0C0"/><rect x="121" y="633" width="1" height="16" fill="#C0C0C0"/><rect x="129" y="633" width="1" height="15" fill="#C0C0C0"/><rect x="137" y="633" width="1" height="11" fill="#C0C0C0"/><rect x="145" y="633" width="1" height="9" fill="#C0C0C0"/><rect x="153" y="633" width="1" height="7" fill="#C0C0C0"/><rect x="161" y="633" width="1" height="6" fill="#C0C0C0"/><rect x="169" y="633" width="1" height="5" fill="#C0C0C0"/><rect x="177" y="633" width="1" height="3" fill="#C0C0C0"/><rect x="185" y="633" width="1" height="5" fill="#C0C0C0"/><rect x="193" y="633" width="1" height="7" fill="#C0C0C0"/><rect x="201" y="633" width="1" height="11" fill="#C0C0C0"/><rect x="209" y="633" width="1" height="15" fill="#C0C0C0"/><rect x="217" y="633" width="1" height="19" fill="#C0C0C0"/><rect x="225" y="633" width="1" height="25" fill="#C0C0C0"/><rect x="233" y="633" width="1" height="28" fill="#C0C0C0"/><rect x="241" y="633" width="1" height="31" fill="#C0C0C0"/><rect x="249" y="633" width="1" height="33" fill="#C0C0C0"/><rect x="257" y="633" width="1" height="35" fill="#C0C0C0"/><rect x="265" y="633" width="1" height="35" fill="#C0C0C0"/><rect x="273" y="633" width="1" height="34" fill="#C0C0C0"/><rect x="281" y="633" width="1" height="33" fill="#C0C0C0"/><rect x="289" y="633" width="1" height="29" fill="#C0C0C0"/><rect x="297" y="633" width="1" height="26" fill="#C0C0C0"/><rect x="305" y="633" width="1" height="25" fill="#C0C0C0"/><rect x="313" y="633" width="1" height="26" fill="#C0C0C0"/><rect x="321" y="633" width="1" height="28" fill="#C0C0C0"/><rect x="329" y="633" width="1" height="32" fill="#C0C0C0"/><rect x="337" y="633" width="1" height="36" fill="#C0C0C0"/><rect x="345" y="633" width="1" height="38" fill="#C0C0C0"/><rect x="353" y="633" width="1" height="39" fill="#C0C0C0"/><rect x="361" y="633" width="1" height="40" fill="#C0C0C0"/><rect x="369" y="633" width="1" height="49" fill="#C0C0C0"/><rect x="377" y="633" width="1" height="55" fill="#C0C0C0"/><rect x="385" y="633" width="1" height="58" fill="#C0C0C0"/><rect x="393" y="633" width="1" height="60" fill="#C0C0C0"/><rect x="401" y="633" width="1" height="60" fill="#C0C0C0"/><rect x="409" y="633" width="1" height="62" fill="#C0C0C0"/><rect x="417" y="633" width="1" height="62" fill="#C0C0C0"/><rect x="425" y="633" width="1" height="63" fill="#C0C0C0"/><rect x="433" y="633" width="1" height="63" fill="#C0C0C0"/><rect x="441" y="633" width="1" height="60" fill="#C0C0C0"/><rect x="449" y="633" width="1" height="69" fill="#C0C0C0"/><rect x="457" y="633" width="1" height="71" fill="#C0C0C0"/><rect x="465" y="633" width="1" height="72" fill="#C0C0C0"/><rect x="473" y="633" width="1" height="69" fill="#C0C0C0"/><rect x="481" y="633" width="1" height="62" fill="#C0C0C0"/><rect x="489" y="633" width="1" height="49" fill="#C0C0C0"/><rect x="497" y="633" width="1" height="38" fill="#C0C0C0"/><rect x="505" y="633" width="1" height="31" fill="#C0C0C0"/><rect x="513" y="633" width="1" height="20" fill="#C0C0C0"/><rect x="521" y="633" width="1" height="10" fill="#C0C0C0"/><rect x="529" y="633" width="1" height="3" fill="#C0C0C0"/><rect x="537" y="632" width="1" height="2" fill="#C0C0C0"/><rect x="545" y="625" width="1" height="9" fill="#C0C0C0"/><rect x="553" y="618" width="1" height="16" fill="#C0C0C0"/><rect x="561" y="617" width="1" height="17" fill="#C0C0C0"/><rect x="569" y="610" width="1" height="24" fill="#C0C0C0"/><rect x="577" y="604" width="1" height="30" fill="#C0C0C0"/><rect x="585" y="600" width="1" height="34" fill="#C0C0C0"/><rect x="593" y="596" width="1" height="38" fill="#C0C0C0"/><rect x="601" y="597" width="1" height="37" fill="#C0C0C0"/><rect x="609" y="597" width="1" height="37" fill="#C0C0C0"/><rect x="617" y="595" width="1" height="39" fill="#C0C0C0"/><rect x="625" y="596" width="1" height="38" fill="#C0C0C0"/><rect x="633" y="598" width="1" height="36" fill="#C0C0C0"/><rect x="641" y="600" width="1" height="34" fill="#C0C0C0"/><rect x="649" y="606" width="1" height="28" fill="#C0C0C0"/><rect x="657" y="609" width="1" height="25" fill="#C0C0C0"/><rect x="665" y="614" width="1" height="20" fill="#C0C0C0"/><rect x="673" y="620" width="1" height="14" fill="#C0C0C0"/><rect x="681" y="624" width="1" height="10" fill="#C0C0C0"/><rect x="689" y="628" width="1" height="6" fill="#C0C0C0"/><rect x="697" y="628" width="1" height="6" fill="#C0C0C0"/><rect x="705" y="627" width="1" height="7" fill="#C0C0C0"/><rect x="713" y="626" width="1" height="8" fill="#C0C0C0"/><rect x="721" y="616" width="1" height="18" fill="#C0C0C0"/><rect x="729" y="603" width="1" height="31" fill="#C0C0C0"/><rect x="737" y="596" width="1" height="38" fill="#C0C0C0"/><rect x="745" y="594" width="1" height="40" fill="#C0C0C0"/><rect x="753" y="593" width="1" height="41" fill="#C0C0C0"/><rect x="761" y="588" width="1" height="46" fill="#C0C0C0"/><rect x="769" y="584" width="1" height="50" fill="#C0C0C0"/><rect x="777" y="580" width="1" height="54" fill="#C0C0C0"/><rect x="785" y="575" width="1" height="59" fill="#C0C0C0"/><rect x="793" y="569" width="1" height="65" fill="#C0C0C0"/><rect x="801" y="566" width="1" height="68" fill="#C0C0C0"/><rect x="809" y="560" width="1" height="74" fill="#C0C0C0"/><rect x="817" y="556" width="1" height="78" fill="#C0C0C0"/><rect x="825" y="556" width="1" height="78" fill="#C0C0C0"/><rect x="833" y="560" width="1" height="74" fill="#C0C0C0"/><rect x="841" y="565" width="1" height="69" fill="#C0C0C0"/><rect x="849" y="568" width="1" height="66" fill="#C0C0C0"/><rect x="857" y="572" width="1" height="62" fill="#C0C0C0"/><rect x="865" y="578" width="1" height="56" fill="#C0C0C0"/><rect x="873" y="578" width="1" height="56" fill="#C0C0C0"/><rect x="881" y="584" width="1" height="50" fill="#C0C0C0"/><rect x="889" y="590" width="1" height="44" fill="#C0C0C0"/><rect x="897" y="597" width="1" height="37" fill="#C0C0C0"/><rect x="905" y="602" width="1" height="32" fill="#C0C0C0"/><rect x="913" y="607" width="1" height="27" fill="#C0C0C0"/><rect x="921" y="611" width="1" height="23" fill="#C0C0C0"/><rect x="929" y="616" width="1" height="18" fill="#C0C0C0"/><rect x="937" y="620" width="1" height="14" fill="#C0C0C0"/><rect x="945" y="622" width="1" height="12" fill="#C0C0C0"/><rect x="953" y="622" width="1" height="12" fill="#C0C0C0"/><rect x="961" y="621" width="1" height="13" fill="#C0C0C0"/><rect x="969" y="617" width="1" height="17" fill="#C0C0C0"/><rect x="977" y="612" width="1" height="22" fill="#C0C0C0"/><rect x="985" y="612" width="1" height="22" fill="#C0C0C0"/><rect x="993" y="611" width="1" height="23" fill="#C0C0C0"/><rect x="1001" y="610" width="1" height="24" fill="#C0C0C0"/><rect x="1009" y="612" width="1" height="22" fill="#C0C0C0"/><rect x="1017" y="613" width="1" height="21" fill="#C0C0C0"/><rect x="1025" y="617" width="1" height="17" fill="#C0C0C0"/><rect x="1033" y="617" width="1" height="17" fill="#C0C0C0"/><rect x="1041" y="617" width="1" height="17" fill="#C0C0C0"/><rect x="1049" y="618" width="1" height="16" fill="#C0C0C0"/><rect x="1057" y="618" width="1" height="16" fill="#C0C0C0"/><rect x="1065" y="613" width="1" height="21" fill="#C0C0C0"/><rect x="1073" y="610" width="1" height="24" fill="#C0C0C0"/><rect x="1081" y="611" width="1" height="23" fill="#C0C0C0"/><rect x="1089" y="612" width="1" height="22" fill="#C0C0C0"/><rect x="1097" y="613" width="1" height="21" fill="#C0C0C0"/><rect x="1105" y="615" width="1" height="19" fill="#C0C0C0"/><rect x="1113" y="615" width="1" height="19" fill="#C0C0C0"/><rect x="1121" y="618" width="1" height="16" fill="#C0C0C0"/><rect x="1129" y="617" width="1" height="17" fill="#C0C0C0"/><rect x="1137" y="619" width="1" height="15" fill="#C0C0C0"/><rect x="1145" y="619" width="1" height="15" fill="#C0C0C0"/><rect x="1153" y="619" width="1" height="15" fill="#C0C0C0"/><rect x="1161" y="619" width="1" height="15" fill="#C0C0C0"/><rect x="1169" y="619" width="1" height="15" fill="#C0C0C0"/><rect x="1177" y="616" width="1" height="18" fill="#C0C0C0"/><rect x="1185" y="613" width="1" height="21" fill="#C0C0C0"/><rect x="1193" y="611" width="1" height="23" fill="#C0C0C0"/><rect x="1201" y="610" width="1" height="24" fill="#C0C0C0"/><rect x="1209" y="606" width="1" height="28" fill="#C0C0C0"/><rect x="1217" y="604" width="1" height="30" fill="#C0C0C0"/><rect x="1225" y="602" width="1" height="32" fill="#C0C0C0"/><rect x="1233" y="599" width="1" height="35" fill="#C0C0C0"/><rect x="1241" y="599" width="1" height="35" fill="#C0C0C0"/><rect x="1249" y="594" width="1" height="40" fill="#C0C0C0"/><rect x="1257" y="593" width="1" height="41" fill="#C0C0C0"/><rect x="1265" y="591" width="1" height="43" fill="#C0C0C0"/><rect x="1273" y="583" width="1" height="51" fill="#C0C0C0"/><rect x="1281" y="577" width="1" height="57" fill="#C0C0C0"/><rect x="1289" y="572" width="1" height="62" fill="#C0C0C0"/><rect x="1297" y="566" width="1" height="68" fill="#C0C0C0"/><rect x="1305" y="563" width="1" height="71" fill="#C0C0C0"/><rect x="1313" y="561" width="1" height="73" fill="#C0C0C0"/><rect x="1321" y="561" width="1" height="73" fill="#C0C0C0"/><rect x="1329" y="560" width="1" height="74" fill="#C0C0C0"/><rect x="1337" y="559" width="1" height="75" fill="#C0C0C0"/><rect x="1345" y="565" width="1" height="69" fill="#C0C0C0"/><rect x="1353" y="570" width="1" height="64" fill="#C0C0C0"/><rect x="1361" y="575" width="1" height="59" fill="#C0C0C0"/><rect x="1369" y="579" width="1" height="55" fill="#C0C0C0"/><rect x="1377" y="583" width="1" height="51" fill="#C0C0C0"/><rect x="1385" y="587" width="1" height="47" fill="#C0C0C0"/><rect x="1393" y="588" width="1" height="46" fill="#C0C0C0"/><rect x="1401" y="591" width="1" height="43" fill="#C0C0C0"/><rect x="1409" y="592" width="1" height="42" fill="#C0C0C0"/><rect x="1417" y="596" width="1" height="38" fill="#C0C0C0"/><rect x="1425" y="599" width="1" height="35" fill="#C0C0C0"/><rect x="1433" y="604" width="1" height="30" fill="#C0C0C0"/><rect x="1441" y="608" width="1" height="26" fill="#C0C0C0"/><rect x="1449" y="610" width="1" height="24" fill="#C0C0C0"/><rect x="1457" y="610" width="1" height="24" fill="#C0C0C0"/><rect x="1465" y="613" width="1" height="21" fill="#C0C0C0"/><rect x="1473" y="616" width="1" height="18" fill="#C0C0C0"/><rect x="1481" y="614" width="1" height="20" fill="#C0C0C0"/><rect x="1489" y="616" width="1" height="18" fill="#C0C0C0"/><rect x="1497" y="619" width="1" height="15" fill="#C0C0C0"/><rect x="1505" y="622" width="1" height="12" fill="#C0C0C0"/><rect x="1513" y="626" width="1" height="8" fill="#C0C0C0"/><rect x="1521" y="630" width="1" height="4" fill="#C0C0C0"/><rect x="1529" y="630" width="1" height="4" fill="#C0C0C0"/><rect x="1537" y="631" width="1" height="3" fill="#C0C0C0"/><rect x="1545" y="627" width="1" height="7" fill="#C0C0C0"/><rect x="1553" y="624" width="1" height="10" fill="#C0C0C0"/><rect x="1561" y="624" width="1" height="10" fill="#C0C0C0"/><rect x="1569" y="622" width="1" height="12" fill="#C0C0C0"/><rect x="1577" y="619" width="1" height="15" fill="#C0C0C0"/><rect x="1585" y="620" width="1" height="14" fill="#C0C0C0"/><rect x="1593" y="618" width="1" height="16" fill="#C0C0C0"/><rect x="1601" y="616" width="1" height="18" fill="#C0C0C0"/><rect x="1609" y="613" width="1" height="21" fill="#C0C0C0"/><rect x="1617" y="607" width="1" height="27" fill="#C0C0C0"/><rect x="1625" y="602" width="1" height="32" fill="#C0C0C0"/><rect x="1633" y="600" width="1" height="34" fill="#C0C0C0"/><rect x="1641" y="602" width="1" height="32" fill="#C0C0C0"/><rect x="1649" y="603" width="1" height="31" fill="#C0C0C0"/><rect x="1657" y="604" width="1" height="30" fill="#C0C0C0"/><rect x="1665" y="605" width="1" height="29" fill="#C0C0C0"/><path d="M0.5 625.4 L16.5 627.5 L32.9 630 L49.1 631.3 L65.3 633.2 L86.3 633.2 L97.5 635.3 L113.9 637.6 L130.1 641.3 L146.2 644 L162.5 645.3 L178.5 642.9 L194.8 641.3 L211 641.8 L227.2 644.5 L243.5 649.4 L259.5 657 L270.5 661.3 L278.5 663.7 L302.9 665.3 L319.1 664.2 L348.2 663.7 L361.2 664.8 L375.8 670.2 L392 677.4 L408.1 682.6 L424.3 688.8 L440.5 692.8 L456.7 696.9 L472.9 699.3 L489.1 698.5 L497.2 696.1 L513.4 687.2 L521.5 679.9 L537.7 664.8 L550.5 651.5 L556.7 645.5 L566.5 635 L581 624.8 L597.2 613.2 L613.4 605.1 L629.5 599.4 L645.8 597.3 L662 598.6 L678.2 605.1 L694.3 612.3 L710.5 618 L726.7 620 L734.8 619.3 L751 612.3 L767.2 605.1 L783.4 594.5 L799.6 583.2 L810.5 577.5 L826.7 569.9 L842.9 564.2 L859.1 563.4 L870.5 563.4 L883.4 567.4 L891.5 572 L907.7 581.2 L923.9 591.4 L940.1 600.1 L956.2 610.3 L972.5 615.2 L988.5 616.3 L1004.8 614.4 L1021 613.6 L1037.2 612.5 L1053.4 614.4 L1096.7 613.3 L1137.2 613.3 L1145.3 615.2 L1161.5 616.3 L1169.5 617.3 L1185.8 617.3 L1202 615.2 L1214.9 613.6 L1226.2 610.3 L1242.5 606.3 L1258.6 601.1 L1274.8 596.3 L1291 589.3 L1307.2 581.2 L1323.4 573.1 L1339.6 565.5 L1350.5 563.4 L1363.5 563.4 L1374.8 565.8 L1391 573.1 L1407.2 578.4 L1423.4 585.2 L1439.5 593 L1455.8 598.5 L1472 603.1 L1488.2 609.2 L1504.3 612.8 L1520.5 617.6 L1536.7 622.5 L1552.9 624.9 L1577.2 625.4 L1593.4 623.3 L1609.6 619.3 L1625.5 615.9 L1634 612 L1641.5 609.2 L1650.5 607.6 L1657.9 606.3 L1665.5 605.3" fill="none" stroke="#FF0000" stroke-width="1" stroke-dasharray="3 3" shape-rendering="crispEdges"/><g fill="#C0C0C0"><rect x="2" y="762" width="3" height="1"/><rect x="8" y="762" width="3" height="1"/><rect x="14" y="762" width="3" height="1"/><rect x="20" y="762" width="3" height="1"/><rect x="26" y="762" width="3" height="1"/><rect x="32" y="762" width="3" height="1"/><rect x="38" y="762" width="3" height="1"/><rect x="44" y="762" width="3" height="1"/><rect x="50" y="762" width="3" height="1"/><rect x="56" y="762" width="3" height="1"/><rect x="62" y="762" width="3" height="1"/><rect x="68" y="762" width="3" height="1"/><rect x="74" y="762" width="3" height="1"/><rect x="80" y="762" width="3" height="1"/><rect x="86" y="762" width="3" height="1"/><rect x="92" y="762" width="3" height="1"/><rect x="98" y="762" width="3" height="1"/><rect x="104" y="762" width="3" height="1"/><rect x="110" y="762" width="3" height="1"/><rect x="116" y="762" width="3" height="1"/><rect x="122" y="762" width="3" height="1"/><rect x="128" y="762" width="3" height="1"/><rect x="134" y="762" width="3" height="1"/><rect x="140" y="762" width="3" height="1"/><rect x="146" y="762" width="3" height="1"/><rect x="152" y="762" width="3" height="1"/><rect x="158" y="762" width="3" height="1"/><rect x="164" y="762" width="3" height="1"/><rect x="170" y="762" width="3" height="1"/><rect x="176" y="762" width="3" height="1"/><rect x="182" y="762" width="3" height="1"/><rect x="188" y="762" width="3" height="1"/><rect x="194" y="762" width="3" height="1"/><rect x="200" y="762" width="3" height="1"/><rect x="206" y="762" width="3" height="1"/><rect x="212" y="762" width="3" height="1"/><rect x="218" y="762" width="3" height="1"/><rect x="224" y="762" width="3" height="1"/><rect x="230" y="762" width="3" height="1"/><rect x="236" y="762" width="3" height="1"/><rect x="242" y="762" width="3" height="1"/><rect x="248" y="762" width="3" height="1"/><rect x="254" y="762" width="3" height="1"/><rect x="260" y="762" width="3" height="1"/><rect x="266" y="762" width="3" height="1"/><rect x="272" y="762" width="3" height="1"/><rect x="278" y="762" width="3" height="1"/><rect x="284" y="762" width="3" height="1"/><rect x="290" y="762" width="3" height="1"/><rect x="296" y="762" width="3" height="1"/><rect x="302" y="762" width="3" height="1"/><rect x="308" y="762" width="3" height="1"/><rect x="314" y="762" width="3" height="1"/><rect x="320" y="762" width="3" height="1"/><rect x="326" y="762" width="3" height="1"/><rect x="332" y="762" width="3" height="1"/><rect x="338" y="762" width="3" height="1"/><rect x="344" y="762" width="3" height="1"/><rect x="350" y="762" width="3" height="1"/><rect x="356" y="762" width="3" height="1"/><rect x="362" y="762" width="3" height="1"/><rect x="368" y="762" width="3" height="1"/><rect x="374" y="762" width="3" height="1"/><rect x="380" y="762" width="3" height="1"/><rect x="386" y="762" width="3" height="1"/><rect x="392" y="762" width="3" height="1"/><rect x="398" y="762" width="3" height="1"/><rect x="404" y="762" width="3" height="1"/><rect x="410" y="762" width="3" height="1"/><rect x="416" y="762" width="3" height="1"/><rect x="422" y="762" width="3" height="1"/><rect x="428" y="762" width="3" height="1"/><rect x="434" y="762" width="3" height="1"/><rect x="440" y="762" width="3" height="1"/><rect x="446" y="762" width="3" height="1"/><rect x="452" y="762" width="3" height="1"/><rect x="458" y="762" width="3" height="1"/><rect x="464" y="762" width="3" height="1"/><rect x="470" y="762" width="3" height="1"/><rect x="476" y="762" width="3" height="1"/><rect x="482" y="762" width="3" height="1"/><rect x="488" y="762" width="3" height="1"/><rect x="494" y="762" width="3" height="1"/><rect x="500" y="762" width="3" height="1"/><rect x="506" y="762" width="3" height="1"/><rect x="512" y="762" width="3" height="1"/><rect x="518" y="762" width="3" height="1"/><rect x="524" y="762" width="3" height="1"/><rect x="530" y="762" width="3" height="1"/><rect x="536" y="762" width="3" height="1"/><rect x="542" y="762" width="3" height="1"/><rect x="548" y="762" width="3" height="1"/><rect x="554" y="762" width="3" height="1"/><rect x="560" y="762" width="3" height="1"/><rect x="566" y="762" width="3" height="1"/><rect x="572" y="762" width="3" height="1"/><rect x="578" y="762" width="3" height="1"/><rect x="584" y="762" width="3" height="1"/><rect x="590" y="762" width="3" height="1"/><rect x="596" y="762" width="3" height="1"/><rect x="602" y="762" width="3" height="1"/><rect x="608" y="762" width="3" height="1"/><rect x="614" y="762" width="3" height="1"/><rect x="620" y="762" width="3" height="1"/><rect x="626" y="762" width="3" height="1"/><rect x="632" y="762" width="3" height="1"/><rect x="638" y="762" width="3" height="1"/><rect x="644" y="762" width="3" height="1"/><rect x="650" y="762" width="3" height="1"/><rect x="656" y="762" width="3" height="1"/><rect x="662" y="762" width="3" height="1"/><rect x="668" y="762" width="3" height="1"/><rect x="674" y="762" width="3" height="1"/><rect x="680" y="762" width="3" height="1"/><rect x="686" y="762" width="3" height="1"/><rect x="692" y="762" width="3" height="1"/><rect x="698" y="762" width="3" height="1"/><rect x="704" y="762" width="3" height="1"/><rect x="710" y="762" width="3" height="1"/><rect x="716" y="762" width="3" height="1"/><rect x="722" y="762" width="3" height="1"/><rect x="728" y="762" width="3" height="1"/><rect x="734" y="762" width="3" height="1"/><rect x="740" y="762" width="3" height="1"/><rect x="746" y="762" width="3" height="1"/><rect x="752" y="762" width="3" height="1"/><rect x="758" y="762" width="3" height="1"/><rect x="764" y="762" width="3" height="1"/><rect x="770" y="762" width="3" height="1"/><rect x="776" y="762" width="3" height="1"/><rect x="782" y="762" width="3" height="1"/><rect x="788" y="762" width="3" height="1"/><rect x="794" y="762" width="3" height="1"/><rect x="800" y="762" width="3" height="1"/><rect x="806" y="762" width="3" height="1"/><rect x="812" y="762" width="3" height="1"/><rect x="818" y="762" width="3" height="1"/><rect x="824" y="762" width="3" height="1"/><rect x="830" y="762" width="3" height="1"/><rect x="836" y="762" width="3" height="1"/><rect x="842" y="762" width="3" height="1"/><rect x="848" y="762" width="3" height="1"/><rect x="854" y="762" width="3" height="1"/><rect x="860" y="762" width="3" height="1"/><rect x="866" y="762" width="3" height="1"/><rect x="872" y="762" width="3" height="1"/><rect x="878" y="762" width="3" height="1"/><rect x="884" y="762" width="3" height="1"/><rect x="890" y="762" width="3" height="1"/><rect x="896" y="762" width="3" height="1"/><rect x="902" y="762" width="3" height="1"/><rect x="908" y="762" width="3" height="1"/><rect x="914" y="762" width="3" height="1"/><rect x="920" y="762" width="3" height="1"/><rect x="926" y="762" width="3" height="1"/><rect x="932" y="762" width="3" height="1"/><rect x="938" y="762" width="3" height="1"/><rect x="944" y="762" width="3" height="1"/><rect x="950" y="762" width="3" height="1"/><rect x="956" y="762" width="3" height="1"/><rect x="962" y="762" width="3" height="1"/><rect x="968" y="762" width="3" height="1"/><rect x="974" y="762" width="3" height="1"/><rect x="980" y="762" width="3" height="1"/><rect x="986" y="762" width="3" height="1"/><rect x="992" y="762" width="3" height="1"/><rect x="998" y="762" width="3" height="1"/><rect x="1004" y="762" width="3" height="1"/><rect x="1010" y="762" width="3" height="1"/><rect x="1016" y="762" width="3" height="1"/><rect x="1022" y="762" width="3" height="1"/><rect x="1028" y="762" width="3" height="1"/><rect x="1034" y="762" width="3" height="1"/><rect x="1040" y="762" width="3" height="1"/><rect x="1046" y="762" width="3" height="1"/><rect x="1052" y="762" width="3" height="1"/><rect x="1058" y="762" width="3" height="1"/><rect x="1064" y="762" width="3" height="1"/><rect x="1070" y="762" width="3" height="1"/><rect x="1076" y="762" width="3" height="1"/><rect x="1082" y="762" width="3" height="1"/><rect x="1088" y="762" width="3" height="1"/><rect x="1094" y="762" width="3" height="1"/><rect x="1100" y="762" width="3" height="1"/><rect x="1106" y="762" width="3" height="1"/><rect x="1112" y="762" width="3" height="1"/><rect x="1118" y="762" width="3" height="1"/><rect x="1124" y="762" width="3" height="1"/><rect x="1130" y="762" width="3" height="1"/><rect x="1136" y="762" width="3" height="1"/><rect x="1142" y="762" width="3" height="1"/><rect x="1148" y="762" width="3" height="1"/><rect x="1154" y="762" width="3" height="1"/><rect x="1160" y="762" width="3" height="1"/><rect x="1166" y="762" width="3" height="1"/><rect x="1172" y="762" width="3" height="1"/><rect x="1178" y="762" width="3" height="1"/><rect x="1184" y="762" width="3" height="1"/><rect x="1190" y="762" width="3" height="1"/><rect x="1196" y="762" width="3" height="1"/><rect x="1202" y="762" width="3" height="1"/><rect x="1208" y="762" width="3" height="1"/><rect x="1214" y="762" width="3" height="1"/><rect x="1220" y="762" width="3" height="1"/><rect x="1226" y="762" width="3" height="1"/><rect x="1232" y="762" width="3" height="1"/><rect x="1238" y="762" width="3" height="1"/><rect x="1244" y="762" width="3" height="1"/><rect x="1250" y="762" width="3" height="1"/><rect x="1256" y="762" width="3" height="1"/><rect x="1262" y="762" width="3" height="1"/><rect x="1268" y="762" width="3" height="1"/><rect x="1274" y="762" width="3" height="1"/><rect x="1280" y="762" width="3" height="1"/><rect x="1286" y="762" width="3" height="1"/><rect x="1292" y="762" width="3" height="1"/><rect x="1298" y="762" width="3" height="1"/><rect x="1304" y="762" width="3" height="1"/><rect x="1310" y="762" width="3" height="1"/><rect x="1316" y="762" width="3" height="1"/><rect x="1322" y="762" width="3" height="1"/><rect x="1328" y="762" width="3" height="1"/><rect x="1334" y="762" width="3" height="1"/><rect x="1340" y="762" width="3" height="1"/><rect x="1346" y="762" width="3" height="1"/><rect x="1352" y="762" width="3" height="1"/><rect x="1358" y="762" width="3" height="1"/><rect x="1364" y="762" width="3" height="1"/><rect x="1370" y="762" width="3" height="1"/><rect x="1376" y="762" width="3" height="1"/><rect x="1382" y="762" width="3" height="1"/><rect x="1388" y="762" width="3" height="1"/><rect x="1394" y="762" width="3" height="1"/><rect x="1400" y="762" width="3" height="1"/><rect x="1406" y="762" width="3" height="1"/><rect x="1412" y="762" width="3" height="1"/><rect x="1418" y="762" width="3" height="1"/><rect x="1424" y="762" width="3" height="1"/><rect x="1430" y="762" width="3" height="1"/><rect x="1436" y="762" width="3" height="1"/><rect x="1442" y="762" width="3" height="1"/><rect x="1448" y="762" width="3" height="1"/><rect x="1454" y="762" width="3" height="1"/><rect x="1460" y="762" width="3" height="1"/><rect x="1466" y="762" width="3" height="1"/><rect x="1472" y="762" width="3" height="1"/><rect x="1478" y="762" width="3" height="1"/><rect x="1484" y="762" width="3" height="1"/><rect x="1490" y="762" width="3" height="1"/><rect x="1496" y="762" width="3" height="1"/><rect x="1502" y="762" width="3" height="1"/><rect x="1508" y="762" width="3" height="1"/><rect x="1514" y="762" width="3" height="1"/><rect x="1520" y="762" width="3" height="1"/><rect x="1526" y="762" width="3" height="1"/><rect x="1532" y="762" width="3" height="1"/><rect x="1538" y="762" width="3" height="1"/><rect x="1544" y="762" width="3" height="1"/><rect x="1550" y="762" width="3" height="1"/><rect x="1556" y="762" width="3" height="1"/><rect x="1562" y="762" width="3" height="1"/><rect x="1568" y="762" width="3" height="1"/><rect x="1574" y="762" width="3" height="1"/><rect x="1580" y="762" width="3" height="1"/><rect x="1586" y="762" width="3" height="1"/><rect x="1592" y="762" width="3" height="1"/><rect x="1598" y="762" width="3" height="1"/><rect x="1604" y="762" width="3" height="1"/><rect x="1610" y="762" width="3" height="1"/><rect x="1616" y="762" width="3" height="1"/><rect x="1622" y="762" width="3" height="1"/><rect x="1628" y="762" width="3" height="1"/><rect x="1634" y="762" width="3" height="1"/><rect x="1640" y="762" width="3" height="1"/><rect x="1646" y="762" width="3" height="1"/><rect x="1652" y="762" width="3" height="1"/><rect x="1658" y="762" width="3" height="1"/><rect x="1664" y="762" width="3" height="1"/><rect x="1670" y="762" width="3" height="1"/><rect x="1676" y="762" width="3" height="1"/><rect x="1682" y="762" width="3" height="1"/><rect x="2" y="823" width="3" height="1"/><rect x="8" y="823" width="3" height="1"/><rect x="14" y="823" width="3" height="1"/><rect x="20" y="823" width="3" height="1"/><rect x="26" y="823" width="3" height="1"/><rect x="32" y="823" width="3" height="1"/><rect x="38" y="823" width="3" height="1"/><rect x="44" y="823" width="3" height="1"/><rect x="50" y="823" width="3" height="1"/><rect x="56" y="823" width="3" height="1"/><rect x="62" y="823" width="3" height="1"/><rect x="68" y="823" width="3" height="1"/><rect x="74" y="823" width="3" height="1"/><rect x="80" y="823" width="3" height="1"/><rect x="86" y="823" width="3" height="1"/><rect x="92" y="823" width="3" height="1"/><rect x="98" y="823" width="3" height="1"/><rect x="104" y="823" width="3" height="1"/><rect x="110" y="823" width="3" height="1"/><rect x="116" y="823" width="3" height="1"/><rect x="122" y="823" width="3" height="1"/><rect x="128" y="823" width="3" height="1"/><rect x="134" y="823" width="3" height="1"/><rect x="140" y="823" width="3" height="1"/><rect x="146" y="823" width="3" height="1"/><rect x="152" y="823" width="3" height="1"/><rect x="158" y="823" width="3" height="1"/><rect x="164" y="823" width="3" height="1"/><rect x="170" y="823" width="3" height="1"/><rect x="176" y="823" width="3" height="1"/><rect x="182" y="823" width="3" height="1"/><rect x="188" y="823" width="3" height="1"/><rect x="194" y="823" width="3" height="1"/><rect x="200" y="823" width="3" height="1"/><rect x="206" y="823" width="3" height="1"/><rect x="212" y="823" width="3" height="1"/><rect x="218" y="823" width="3" height="1"/><rect x="224" y="823" width="3" height="1"/><rect x="230" y="823" width="3" height="1"/><rect x="236" y="823" width="3" height="1"/><rect x="242" y="823" width="3" height="1"/><rect x="248" y="823" width="3" height="1"/><rect x="254" y="823" width="3" height="1"/><rect x="260" y="823" width="3" height="1"/><rect x="266" y="823" width="3" height="1"/><rect x="272" y="823" width="3" height="1"/><rect x="278" y="823" width="3" height="1"/><rect x="284" y="823" width="3" height="1"/><rect x="290" y="823" width="3" height="1"/><rect x="296" y="823" width="3" height="1"/><rect x="302" y="823" width="3" height="1"/><rect x="308" y="823" width="3" height="1"/><rect x="314" y="823" width="3" height="1"/><rect x="320" y="823" width="3" height="1"/><rect x="326" y="823" width="3" height="1"/><rect x="332" y="823" width="3" height="1"/><rect x="338" y="823" width="3" height="1"/><rect x="344" y="823" width="3" height="1"/><rect x="350" y="823" width="3" height="1"/><rect x="356" y="823" width="3" height="1"/><rect x="362" y="823" width="3" height="1"/><rect x="368" y="823" width="3" height="1"/><rect x="374" y="823" width="3" height="1"/><rect x="380" y="823" width="3" height="1"/><rect x="386" y="823" width="3" height="1"/><rect x="392" y="823" width="3" height="1"/><rect x="398" y="823" width="3" height="1"/><rect x="404" y="823" width="3" height="1"/><rect x="410" y="823" width="3" height="1"/><rect x="416" y="823" width="3" height="1"/><rect x="422" y="823" width="3" height="1"/><rect x="428" y="823" width="3" height="1"/><rect x="434" y="823" width="3" height="1"/><rect x="440" y="823" width="3" height="1"/><rect x="446" y="823" width="3" height="1"/><rect x="452" y="823" width="3" height="1"/><rect x="458" y="823" width="3" height="1"/><rect x="464" y="823" width="3" height="1"/><rect x="470" y="823" width="3" height="1"/><rect x="476" y="823" width="3" height="1"/><rect x="482" y="823" width="3" height="1"/><rect x="488" y="823" width="3" height="1"/><rect x="494" y="823" width="3" height="1"/><rect x="500" y="823" width="3" height="1"/><rect x="506" y="823" width="3" height="1"/><rect x="512" y="823" width="3" height="1"/><rect x="518" y="823" width="3" height="1"/><rect x="524" y="823" width="3" height="1"/><rect x="530" y="823" width="3" height="1"/><rect x="536" y="823" width="3" height="1"/><rect x="542" y="823" width="3" height="1"/><rect x="548" y="823" width="3" height="1"/><rect x="554" y="823" width="3" height="1"/><rect x="560" y="823" width="3" height="1"/><rect x="566" y="823" width="3" height="1"/><rect x="572" y="823" width="3" height="1"/><rect x="578" y="823" width="3" height="1"/><rect x="584" y="823" width="3" height="1"/><rect x="590" y="823" width="3" height="1"/><rect x="596" y="823" width="3" height="1"/><rect x="602" y="823" width="3" height="1"/><rect x="608" y="823" width="3" height="1"/><rect x="614" y="823" width="3" height="1"/><rect x="620" y="823" width="3" height="1"/><rect x="626" y="823" width="3" height="1"/><rect x="632" y="823" width="3" height="1"/><rect x="638" y="823" width="3" height="1"/><rect x="644" y="823" width="3" height="1"/><rect x="650" y="823" width="3" height="1"/><rect x="656" y="823" width="3" height="1"/><rect x="662" y="823" width="3" height="1"/><rect x="668" y="823" width="3" height="1"/><rect x="674" y="823" width="3" height="1"/><rect x="680" y="823" width="3" height="1"/><rect x="686" y="823" width="3" height="1"/><rect x="692" y="823" width="3" height="1"/><rect x="698" y="823" width="3" height="1"/><rect x="704" y="823" width="3" height="1"/><rect x="710" y="823" width="3" height="1"/><rect x="716" y="823" width="3" height="1"/><rect x="722" y="823" width="3" height="1"/><rect x="728" y="823" width="3" height="1"/><rect x="734" y="823" width="3" height="1"/><rect x="740" y="823" width="3" height="1"/><rect x="746" y="823" width="3" height="1"/><rect x="752" y="823" width="3" height="1"/><rect x="758" y="823" width="3" height="1"/><rect x="764" y="823" width="3" height="1"/><rect x="770" y="823" width="3" height="1"/><rect x="776" y="823" width="3" height="1"/><rect x="782" y="823" width="3" height="1"/><rect x="788" y="823" width="3" height="1"/><rect x="794" y="823" width="3" height="1"/><rect x="800" y="823" width="3" height="1"/><rect x="806" y="823" width="3" height="1"/><rect x="812" y="823" width="3" height="1"/><rect x="818" y="823" width="3" height="1"/><rect x="824" y="823" width="3" height="1"/><rect x="830" y="823" width="3" height="1"/><rect x="836" y="823" width="3" height="1"/><rect x="842" y="823" width="3" height="1"/><rect x="848" y="823" width="3" height="1"/><rect x="854" y="823" width="3" height="1"/><rect x="860" y="823" width="3" height="1"/><rect x="866" y="823" width="3" height="1"/><rect x="872" y="823" width="3" height="1"/><rect x="878" y="823" width="3" height="1"/><rect x="884" y="823" width="3" height="1"/><rect x="890" y="823" width="3" height="1"/><rect x="896" y="823" width="3" height="1"/><rect x="902" y="823" width="3" height="1"/><rect x="908" y="823" width="3" height="1"/><rect x="914" y="823" width="3" height="1"/><rect x="920" y="823" width="3" height="1"/><rect x="926" y="823" width="3" height="1"/><rect x="932" y="823" width="3" height="1"/><rect x="938" y="823" width="3" height="1"/><rect x="944" y="823" width="3" height="1"/><rect x="950" y="823" width="3" height="1"/><rect x="956" y="823" width="3" height="1"/><rect x="962" y="823" width="3" height="1"/><rect x="968" y="823" width="3" height="1"/><rect x="974" y="823" width="3" height="1"/><rect x="980" y="823" width="3" height="1"/><rect x="986" y="823" width="3" height="1"/><rect x="992" y="823" width="3" height="1"/><rect x="998" y="823" width="3" height="1"/><rect x="1004" y="823" width="3" height="1"/><rect x="1010" y="823" width="3" height="1"/><rect x="1016" y="823" width="3" height="1"/><rect x="1022" y="823" width="3" height="1"/><rect x="1028" y="823" width="3" height="1"/><rect x="1034" y="823" width="3" height="1"/><rect x="1040" y="823" width="3" height="1"/><rect x="1046" y="823" width="3" height="1"/><rect x="1052" y="823" width="3" height="1"/><rect x="1058" y="823" width="3" height="1"/><rect x="1064" y="823" width="3" height="1"/><rect x="1070" y="823" width="3" height="1"/><rect x="1076" y="823" width="3" height="1"/><rect x="1082" y="823" width="3" height="1"/><rect x="1088" y="823" width="3" height="1"/><rect x="1094" y="823" width="3" height="1"/><rect x="1100" y="823" width="3" height="1"/><rect x="1106" y="823" width="3" height="1"/><rect x="1112" y="823" width="3" height="1"/><rect x="1118" y="823" width="3" height="1"/><rect x="1124" y="823" width="3" height="1"/><rect x="1130" y="823" width="3" height="1"/><rect x="1136" y="823" width="3" height="1"/><rect x="1142" y="823" width="3" height="1"/><rect x="1148" y="823" width="3" height="1"/><rect x="1154" y="823" width="3" height="1"/><rect x="1160" y="823" width="3" height="1"/><rect x="1166" y="823" width="3" height="1"/><rect x="1172" y="823" width="3" height="1"/><rect x="1178" y="823" width="3" height="1"/><rect x="1184" y="823" width="3" height="1"/><rect x="1190" y="823" width="3" height="1"/><rect x="1196" y="823" width="3" height="1"/><rect x="1202" y="823" width="3" height="1"/><rect x="1208" y="823" width="3" height="1"/><rect x="1214" y="823" width="3" height="1"/><rect x="1220" y="823" width="3" height="1"/><rect x="1226" y="823" width="3" height="1"/><rect x="1232" y="823" width="3" height="1"/><rect x="1238" y="823" width="3" height="1"/><rect x="1244" y="823" width="3" height="1"/><rect x="1250" y="823" width="3" height="1"/><rect x="1256" y="823" width="3" height="1"/><rect x="1262" y="823" width="3" height="1"/><rect x="1268" y="823" width="3" height="1"/><rect x="1274" y="823" width="3" height="1"/><rect x="1280" y="823" width="3" height="1"/><rect x="1286" y="823" width="3" height="1"/><rect x="1292" y="823" width="3" height="1"/><rect x="1298" y="823" width="3" height="1"/><rect x="1304" y="823" width="3" height="1"/><rect x="1310" y="823" width="3" height="1"/><rect x="1316" y="823" width="3" height="1"/><rect x="1322" y="823" width="3" height="1"/><rect x="1328" y="823" width="3" height="1"/><rect x="1334" y="823" width="3" height="1"/><rect x="1340" y="823" width="3" height="1"/><rect x="1346" y="823" width="3" height="1"/><rect x="1352" y="823" width="3" height="1"/><rect x="1358" y="823" width="3" height="1"/><rect x="1364" y="823" width="3" height="1"/><rect x="1370" y="823" width="3" height="1"/><rect x="1376" y="823" width="3" height="1"/><rect x="1382" y="823" width="3" height="1"/><rect x="1388" y="823" width="3" height="1"/><rect x="1394" y="823" width="3" height="1"/><rect x="1400" y="823" width="3" height="1"/><rect x="1406" y="823" width="3" height="1"/><rect x="1412" y="823" width="3" height="1"/><rect x="1418" y="823" width="3" height="1"/><rect x="1424" y="823" width="3" height="1"/><rect x="1430" y="823" width="3" height="1"/><rect x="1436" y="823" width="3" height="1"/><rect x="1442" y="823" width="3" height="1"/><rect x="1448" y="823" width="3" height="1"/><rect x="1454" y="823" width="3" height="1"/><rect x="1460" y="823" width="3" height="1"/><rect x="1466" y="823" width="3" height="1"/><rect x="1472" y="823" width="3" height="1"/><rect x="1478" y="823" width="3" height="1"/><rect x="1484" y="823" width="3" height="1"/><rect x="1490" y="823" width="3" height="1"/><rect x="1496" y="823" width="3" height="1"/><rect x="1502" y="823" width="3" height="1"/><rect x="1508" y="823" width="3" height="1"/><rect x="1514" y="823" width="3" height="1"/><rect x="1520" y="823" width="3" height="1"/><rect x="1526" y="823" width="3" height="1"/><rect x="1532" y="823" width="3" height="1"/><rect x="1538" y="823" width="3" height="1"/><rect x="1544" y="823" width="3" height="1"/><rect x="1550" y="823" width="3" height="1"/><rect x="1556" y="823" width="3" height="1"/><rect x="1562" y="823" width="3" height="1"/><rect x="1568" y="823" width="3" height="1"/><rect x="1574" y="823" width="3" height="1"/><rect x="1580" y="823" width="3" height="1"/><rect x="1586" y="823" width="3" height="1"/><rect x="1592" y="823" width="3" height="1"/><rect x="1598" y="823" width="3" height="1"/><rect x="1604" y="823" width="3" height="1"/><rect x="1610" y="823" width="3" height="1"/><rect x="1616" y="823" width="3" height="1"/><rect x="1622" y="823" width="3" height="1"/><rect x="1628" y="823" width="3" height="1"/><rect x="1634" y="823" width="3" height="1"/><rect x="1640" y="823" width="3" height="1"/><rect x="1646" y="823" width="3" height="1"/><rect x="1652" y="823" width="3" height="1"/><rect x="1658" y="823" width="3" height="1"/><rect x="1664" y="823" width="3" height="1"/><rect x="1670" y="823" width="3" height="1"/><rect x="1676" y="823" width="3" height="1"/><rect x="1682" y="823" width="3" height="1"/></g><path d="M1.5 800.2 L9.5 798.3 L17.5 802.1 L25.5 797.8 L33.5 793.4 L41.5 794 L49.5 785.6 L57.5 790.5 L65.5 787.2 L73.5 795.3 L81.5 799.9 L89.5 811.9 L97.5 814.5 L105.5 814.5 L113.5 818 L121.5 804.3 L129.5 800.2 L137.5 787.6 L145.5 790.5 L153.5 792.4 L161.5 791.8 L169.5 792.4 L177.5 786.9 L185.5 803.4 L193.5 809.1 L201.5 809.6 L209.5 818 L217.5 819.3 L225.5 827.4 L233.5 818.3 L241.5 822.1 L249.5 823.7 L257.5 822.6 L265.5 816.7 L273.5 814.5 L281.5 814.5 L289.5 798.3 L297.5 798.3 L305.5 807.5 L313.5 812.3 L321.5 819.6 L329.5 824.2 L337.5 827.4 L345.5 828.5 L353.5 824.2 L361.5 826.1 L369.5 840.4 L377.5 841.5 L385.5 831.3 L393.5 833.4 L401.5 823.7 L409.5 829.4 L417.5 824.2 L425.5 828.5 L433.5 824.2 L441.5 822.1 L449.5 837.4 L457.5 826.1 L465.5 824.5 L473.5 816.1 L481.5 802.1 L489.5 786.9 L497.5 785.3 L505.5 790.5 L513.5 781.1 L521.5 776.2 L529.5 780.4 L537.5 779.1 L545.5 777.2 L553.5 774.3 L561.5 783.4 L569.5 773.2 L577.5 769.5 L585.5 771.1 L593.5 770.4 L601.5 781.3 L609.5 778.5 L617.5 775.3 L625.5 779.7 L633.5 782.4 L641.5 780.5 L649.5 795.1 L657.5 789.4 L665.5 795.9 L673.5 800.2 L681.5 797.5 L689.5 798.6 L697.5 792.6 L705.5 785.7 L713.5 787.3 L721.5 767.2 L729.5 761.4 L737.5 768.3 L745.5 776.4 L753.5 776.4 L761.5 768.3 L769.5 769.5 L777.5 765.6 L785.5 763.5 L793.5 759.4 L801.5 759.1 L809.5 755.4 L817.5 754.5 L825.5 760.2 L833.5 771.1 L841.5 774 L849.5 773.2 L857.5 774.8 L865.5 780.2 L873.5 770.4 L881.5 786.2 L889.5 787.8 L897.5 792.1 L905.5 791.5 L913.5 793.1 L921.5 793.4 L929.5 795.4 L937.5 797.5 L945.5 790.5 L953.5 787.3 L961.5 781.8 L969.5 773.2 L977.5 769.5 L985.5 780.2 L993.5 780.2 L1001.5 776.4 L1009.5 786.2 L1017.5 785.7 L1025.5 793.1 L1033.5 784.5 L1041.5 786.2 L1049.5 786.2 L1057.5 782.1 L1065.5 770.4 L1073.5 773.2 L1081.5 782.9 L1089.5 785.2 L1097.5 784.3 L1105.5 786.4 L1113.5 783.1 L1121.5 790.2 L1129.5 782.6 L1137.5 788.3 L1145.5 786.4 L1153.5 781.5 L1161.5 782.1 L1169.5 784.3 L1177.5 771.8 L1185.5 771.3 L1193.5 769.7 L1201.5 769.2 L1209.5 761.6 L1217.5 768.5 L1225.5 763.2 L1233.5 761.1 L1241.5 766.4 L1249.5 756.2 L1257.5 764.3 L1265.5 760 L1273.5 748.6 L1281.5 748.6 L1289.5 747 L1297.5 744.6 L1305.5 744.6 L1313.5 748.1 L1321.5 747 L1329.5 745.4 L1337.5 743.3 L1345.5 775.3 L1353.5 774 L1361.5 773.4 L1369.5 775.3 L1377.5 774 L1385.5 775.3 L1393.5 769.2 L1401.5 771.3 L1409.5 768.5 L1417.5 781 L1425.5 781.5 L1433.5 791.5 L1441.5 790.2 L1449.5 781.8 L1457.5 778.3 L1465.5 786.7 L1473.5 790.2 L1481.5 777.3 L1489.5 785.9 L1497.5 794.5 L1505.5 795.6 L1513.5 798.3 L1521.5 802.1 L1529.5 791.2 L1537.5 794.8 L1545.5 776.6 L1553.5 782.1 L1561.5 785.9 L1569.5 781.8 L1577.5 777.3 L1585.5 788.3 L1593.5 780.5 L1601.5 777.3 L1609.5 776.7 L1617.5 766.4 L1625.5 764.4 L1633.5 775.1 L1641.5 781.6 L1649.5 780.2 L1657.5 779.1 L1665.5 779.1" fill="none" stroke="#1E90FF" stroke-width="1" shape-rendering="crispEdges"/><g fill="#000"><rect x="0" y="27" width="1687" height="1"/><rect x="0" y="544" width="1687" height="1"/><rect x="0" y="546" width="1687" height="1"/><rect x="0" y="713" width="1687" height="1"/><rect x="0" y="715" width="1687" height="1"/><rect x="0" y="869" width="1687" height="1"/><rect x="0" y="27" width="1" height="843"/><rect x="1686" y="27" width="1" height="843"/></g><rect x="1" y="47" width="1687" height="2" fill="#FF0000"/><rect x="1" y="166" width="1687" height="2" fill="#32CD32"/><rect x="1" y="267" width="1687" height="2" fill="#4169E1"/><rect x="1" y="335" width="1687" height="2" fill="#4169E1"/><path d="M4 34h7l-3.5 4z" fill="#000" shape-rendering="geometricPrecision"/><text x="16.1" y="38.9" font-family="'Liberation Sans', sans-serif" font-size="9.9px" fill="#000" stroke="#000" stroke-width="0.2" textLength="43.3" lengthAdjust="spacingAndGlyphs">UKOil-,H4</text><text x="64.4" y="38.9" font-family="'Liberation Sans', sans-serif" font-size="9.9px" fill="#000" stroke="#000" stroke-width="0.2" textLength="122.4" lengthAdjust="spacingAndGlyphs">48.910 49.220 48.910 49.080</text><text x="4.9" y="559" font-family="'Liberation Sans', sans-serif" font-size="9.9px" fill="#000" stroke="#000" stroke-width="0.2" textLength="128.4" lengthAdjust="spacingAndGlyphs">MACD(12,26,9) 0.4228 0.4057</text><text x="4.9" y="728" font-family="'Liberation Sans', sans-serif" font-size="9.9px" fill="#000" stroke="#000" stroke-width="0.2" textLength="67.9" lengthAdjust="spacingAndGlyphs">RSI(14) 58.8181</text><g font-family="'Liberation Sans', sans-serif" font-size="9.9px" fill="#000" stroke="#000" stroke-width="0.2"><rect x="1687" y="112" width="2" height="1" stroke="none" shape-rendering="crispEdges"/><text x="1692" y="115.6" textLength="28.3" lengthAdjust="spacingAndGlyphs">48.125</text><rect x="1687" y="145" width="2" height="1" stroke="none" shape-rendering="crispEdges"/><text x="1692" y="148.6" textLength="28.3" lengthAdjust="spacingAndGlyphs">47.150</text><rect x="1687" y="178" width="2" height="1" stroke="none" shape-rendering="crispEdges"/><text x="1692" y="181.6" textLength="28.3" lengthAdjust="spacingAndGlyphs">46.175</text><rect x="1687" y="211" width="2" height="1" stroke="none" shape-rendering="crispEdges"/><text x="1692" y="214.6" textLength="28.3" lengthAdjust="spacingAndGlyphs">45.175</text><rect x="1687" y="244" width="2" height="1" stroke="none" shape-rendering="crispEdges"/><text x="1692" y="247.6" textLength="28.3" lengthAdjust="spacingAndGlyphs">44.200</text><rect x="1687" y="277" width="2" height="1" stroke="none" shape-rendering="crispEdges"/><text x="1692" y="280.6" textLength="28.3" lengthAdjust="spacingAndGlyphs">43.225</text><rect x="1687" y="310" width="2" height="1" stroke="none" shape-rendering="crispEdges"/><text x="1692" y="313.6" textLength="28.3" lengthAdjust="spacingAndGlyphs">42.250</text><rect x="1687" y="343" width="2" height="1" stroke="none" shape-rendering="crispEdges"/><text x="1692" y="346.6" textLength="28.3" lengthAdjust="spacingAndGlyphs">41.275</text><rect x="1687" y="376" width="2" height="1" stroke="none" shape-rendering="crispEdges"/><text x="1692" y="379.6" textLength="28.3" lengthAdjust="spacingAndGlyphs">40.300</text><rect x="1687" y="409" width="2" height="1" stroke="none" shape-rendering="crispEdges"/><text x="1692" y="412.6" textLength="28.3" lengthAdjust="spacingAndGlyphs">39.325</text><rect x="1687" y="442" width="2" height="1" stroke="none" shape-rendering="crispEdges"/><text x="1692" y="445.6" textLength="28.3" lengthAdjust="spacingAndGlyphs">38.350</text><rect x="1687" y="475" width="2" height="1" stroke="none" shape-rendering="crispEdges"/><text x="1692" y="478.6" textLength="28.3" lengthAdjust="spacingAndGlyphs">37.375</text><rect x="1687" y="508" width="2" height="1" stroke="none" shape-rendering="crispEdges"/><text x="1692" y="511.6" textLength="28.3" lengthAdjust="spacingAndGlyphs">36.400</text><rect x="1687" y="541" width="2" height="1" stroke="none" shape-rendering="crispEdges"/><text x="1692" y="544.6" textLength="28.3" lengthAdjust="spacingAndGlyphs">35.425</text></g><rect x="1688" y="42" width="36" height="11" fill="#FF0000"/><text x="1692" y="50.6" font-family="'Liberation Sans', sans-serif" font-size="9.9px" fill="#FFF" textLength="28.3" lengthAdjust="spacingAndGlyphs">50.000</text><rect x="1688" y="75" width="36" height="11" fill="#000000"/><text x="1692" y="83.6" font-family="'Liberation Sans', sans-serif" font-size="9.9px" fill="#FFF" textLength="28.3" lengthAdjust="spacingAndGlyphs">49.080</text><rect x="1688" y="161" width="36" height="11" fill="#32CD32"/><text x="1692" y="169.6" font-family="'Liberation Sans', sans-serif" font-size="9.9px" fill="#FFF" textLength="28.3" lengthAdjust="spacingAndGlyphs">46.500</text><rect x="1688" y="262" width="36" height="11" fill="#4169E1"/><text x="1692" y="270.6" font-family="'Liberation Sans', sans-serif" font-size="9.9px" fill="#FFF" textLength="28.3" lengthAdjust="spacingAndGlyphs">43.500</text><rect x="1688" y="330" width="36" height="11" fill="#4169E1"/><text x="1692" y="338.6" font-family="'Liberation Sans', sans-serif" font-size="9.9px" fill="#FFF" textLength="28.3" lengthAdjust="spacingAndGlyphs">41.500</text><g font-family="'Liberation Sans', sans-serif" font-size="9.9px" fill="#000" stroke="#000" stroke-width="0.2"><rect x="1687" y="548" width="2" height="1" stroke="none" shape-rendering="crispEdges"/><text x="1690" y="556.6999999999999" textLength="28.3" lengthAdjust="spacingAndGlyphs">1.2251</text><rect x="1687" y="633" width="2" height="1" stroke="none" shape-rendering="crispEdges"/><text x="1690" y="637.0" textLength="18.02" lengthAdjust="spacingAndGlyphs">0.00</text><rect x="1687" y="712" width="2" height="1" stroke="none" shape-rendering="crispEdges"/><text x="1690" y="709.8" textLength="31.38" lengthAdjust="spacingAndGlyphs">-1.1383</text><rect x="1687" y="717" width="2" height="1" stroke="none" shape-rendering="crispEdges"/><text x="1690" y="725.6999999999999" textLength="15.44" lengthAdjust="spacingAndGlyphs">100</text><rect x="1687" y="762" width="2" height="1" stroke="none" shape-rendering="crispEdges"/><text x="1690" y="765.9" textLength="10.3" lengthAdjust="spacingAndGlyphs">70</text><rect x="1687" y="823" width="2" height="1" stroke="none" shape-rendering="crispEdges"/><text x="1690" y="827.0999999999999" textLength="10.3" lengthAdjust="spacingAndGlyphs">30</text><rect x="1687" y="868" width="2" height="1" stroke="none" shape-rendering="crispEdges"/><text x="1690" y="865.6999999999999" textLength="5.16" lengthAdjust="spacingAndGlyphs">0</text></g><g font-family="'Liberation Sans', sans-serif" font-size="9.9px" fill="#000" stroke="#000" stroke-width="0.2"><rect x="1" y="870" width="1" height="3" stroke="none" shape-rendering="crispEdges"/><text x="0.5" y="882" textLength="50.41" lengthAdjust="spacingAndGlyphs">19 Oct 2020</text><rect x="65" y="870" width="1" height="3" stroke="none" shape-rendering="crispEdges"/><text x="64.5" y="882" textLength="52.97" lengthAdjust="spacingAndGlyphs">21 Oct 00:00</text><rect x="129" y="870" width="1" height="3" stroke="none" shape-rendering="crispEdges"/><text x="128.5" y="882" textLength="52.97" lengthAdjust="spacingAndGlyphs">22 Oct 08:00</text><rect x="193" y="870" width="1" height="3" stroke="none" shape-rendering="crispEdges"/><text x="192.5" y="882" textLength="52.97" lengthAdjust="spacingAndGlyphs">23 Oct 16:00</text><rect x="257" y="870" width="1" height="3" stroke="none" shape-rendering="crispEdges"/><text x="256.5" y="882" textLength="52.97" lengthAdjust="spacingAndGlyphs">26 Oct 20:00</text><rect x="321" y="870" width="1" height="3" stroke="none" shape-rendering="crispEdges"/><text x="320.5" y="882" textLength="52.97" lengthAdjust="spacingAndGlyphs">28 Oct 00:00</text><rect x="385" y="870" width="1" height="3" stroke="none" shape-rendering="crispEdges"/><text x="384.5" y="882" textLength="52.97" lengthAdjust="spacingAndGlyphs">29 Oct 16:00</text><rect x="449" y="870" width="1" height="3" stroke="none" shape-rendering="crispEdges"/><text x="448.5" y="882" textLength="49.89" lengthAdjust="spacingAndGlyphs">1 Nov 23:00</text><rect x="513" y="870" width="1" height="3" stroke="none" shape-rendering="crispEdges"/><text x="512.5" y="882" textLength="49.89" lengthAdjust="spacingAndGlyphs">3 Nov 05:00</text><rect x="577" y="870" width="1" height="3" stroke="none" shape-rendering="crispEdges"/><text x="576.5" y="882" textLength="49.89" lengthAdjust="spacingAndGlyphs">4 Nov 13:00</text><rect x="641" y="870" width="1" height="3" stroke="none" shape-rendering="crispEdges"/><text x="640.5" y="882" textLength="49.89" lengthAdjust="spacingAndGlyphs">5 Nov 21:00</text><rect x="705" y="870" width="1" height="3" stroke="none" shape-rendering="crispEdges"/><text x="704.5" y="882" textLength="49.89" lengthAdjust="spacingAndGlyphs">9 Nov 00:00</text><rect x="769" y="870" width="1" height="3" stroke="none" shape-rendering="crispEdges"/><text x="768.5" y="882" textLength="55.03" lengthAdjust="spacingAndGlyphs">10 Nov 09:00</text><rect x="833" y="870" width="1" height="3" stroke="none" shape-rendering="crispEdges"/><text x="832.5" y="882" textLength="54.34" lengthAdjust="spacingAndGlyphs">11 Nov 17:00</text><rect x="897" y="870" width="1" height="3" stroke="none" shape-rendering="crispEdges"/><text x="896.5" y="882" textLength="55.03" lengthAdjust="spacingAndGlyphs">13 Nov 01:00</text><rect x="961" y="870" width="1" height="3" stroke="none" shape-rendering="crispEdges"/><text x="960.5" y="882" textLength="55.03" lengthAdjust="spacingAndGlyphs">16 Nov 04:00</text><rect x="1025" y="870" width="1" height="3" stroke="none" shape-rendering="crispEdges"/><text x="1024.5" y="882" textLength="55.03" lengthAdjust="spacingAndGlyphs">17 Nov 13:00</text><rect x="1089" y="870" width="1" height="3" stroke="none" shape-rendering="crispEdges"/><text x="1088.5" y="882" textLength="55.03" lengthAdjust="spacingAndGlyphs">18 Nov 21:00</text><rect x="1153" y="870" width="1" height="3" stroke="none" shape-rendering="crispEdges"/><text x="1152.5" y="882" textLength="55.03" lengthAdjust="spacingAndGlyphs">20 Nov 05:00</text><rect x="1217" y="870" width="1" height="3" stroke="none" shape-rendering="crispEdges"/><text x="1216.5" y="882" textLength="55.03" lengthAdjust="spacingAndGlyphs">23 Nov 08:00</text><rect x="1281" y="870" width="1" height="3" stroke="none" shape-rendering="crispEdges"/><text x="1280.5" y="882" textLength="55.03" lengthAdjust="spacingAndGlyphs">24 Nov 17:00</text><rect x="1345" y="870" width="1" height="3" stroke="none" shape-rendering="crispEdges"/><text x="1344.5" y="882" textLength="55.03" lengthAdjust="spacingAndGlyphs">26 Nov 05:00</text><rect x="1409" y="870" width="1" height="3" stroke="none" shape-rendering="crispEdges"/><text x="1408.5" y="882" textLength="55.03" lengthAdjust="spacingAndGlyphs">27 Nov 17:00</text><rect x="1473" y="870" width="1" height="3" stroke="none" shape-rendering="crispEdges"/><text x="1472.5" y="882" textLength="49.89" lengthAdjust="spacingAndGlyphs">1 Dec 01:00</text><rect x="1537" y="870" width="1" height="3" stroke="none" shape-rendering="crispEdges"/><text x="1536.5" y="882" textLength="49.89" lengthAdjust="spacingAndGlyphs">2 Dec 09:00</text><rect x="1601" y="870" width="1" height="3" stroke="none" shape-rendering="crispEdges"/><text x="1600.5" y="882" textLength="49.89" lengthAdjust="spacingAndGlyphs">3 Dec 17:00</text><rect x="1665" y="870" width="1" height="3" stroke="none" shape-rendering="crispEdges"/><text x="1664.5" y="882" textLength="49.89" lengthAdjust="spacingAndGlyphs">6 Dec 23:00</text></g><text x="1163.3" y="444.8" font-family="'Liberation Sans', 'Noto Sans CJK SC', sans-serif" font-size="33.4px" fill="#E8212B">多空转折点</text><text x="1329.3" y="443.9" font-family="'Liberation Sans', 'Noto Sans CJK SC', sans-serif" font-size="36px" fill="#E8212B" textLength="64.5" lengthAdjust="spacingAndGlyphs">46.5</text><defs><clipPath id="cm"><rect x="1" y="28" width="1685" height="516"/></clipPath></defs></svg>
</body></html>
